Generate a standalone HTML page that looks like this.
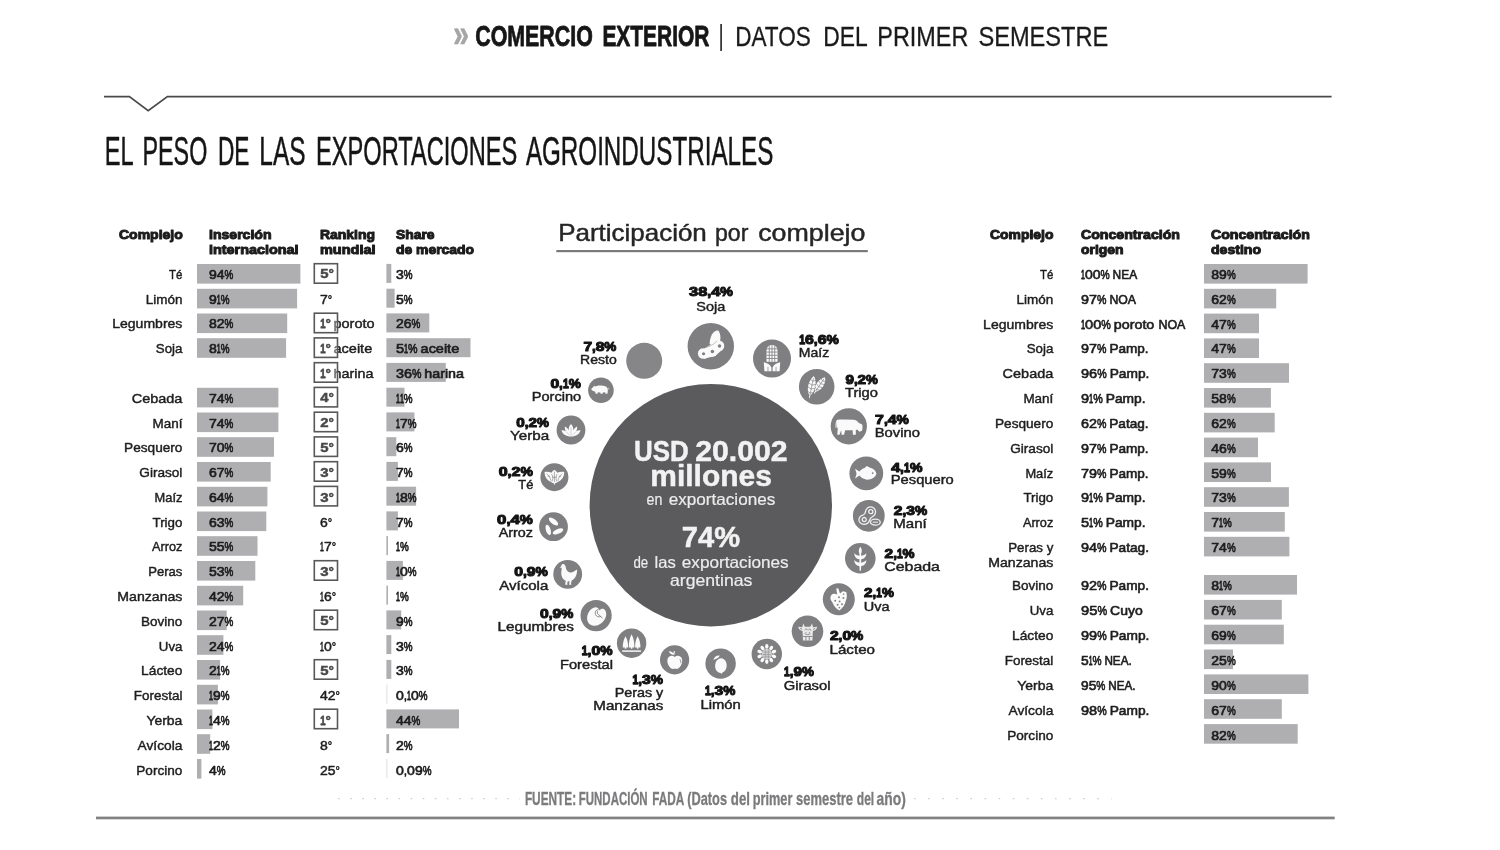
<!DOCTYPE html>
<html lang="es">
<head>
<meta charset="utf-8">
<title>El peso de las exportaciones agroindustriales</title>
<style>
html,body{margin:0;padding:0;background:#fff;}
body{width:1500px;height:850px;overflow:hidden;}
svg{display:block;font-family:"Liberation Sans", "DejaVu Sans", sans-serif;filter:blur(0.45px);}
text{white-space:pre;}
</style>
</head>
<body>
<svg width="1500" height="850" viewBox="0 0 1500 850">
<rect width="1500" height="850" fill="#ffffff"/>
<g class="header">
<text x="453.2" y="47.2" font-size="38" font-weight="bold" fill="#a6a6a6" stroke="#a6a6a6" stroke-width="0.7" stroke-linejoin="round" textLength="15.6" lengthAdjust="spacingAndGlyphs">»</text>
<text y="45.5" font-size="29.3" font-weight="bold" fill="#161616" stroke="#161616" stroke-width="0.8" stroke-linejoin="round"><tspan x="475.2" textLength="117.6" lengthAdjust="spacingAndGlyphs">COMERCIO</tspan> <tspan x="602.4" textLength="107.0" lengthAdjust="spacingAndGlyphs">EXTERIOR</tspan></text>
<rect x="720.3" y="24.0" width="1.6" height="27.0" fill="#222"/>
<text y="45.5" font-size="27.8" fill="#1a1a1a" stroke="#1a1a1a" stroke-width="0.3" stroke-linejoin="round"><tspan x="735.2" textLength="75.6" lengthAdjust="spacingAndGlyphs">DATOS</tspan> <tspan x="823.2" textLength="43.6" lengthAdjust="spacingAndGlyphs">DEL</tspan> <tspan x="877.3" textLength="91.0" lengthAdjust="spacingAndGlyphs">PRIMER</tspan> <tspan x="978.4" textLength="129.9" lengthAdjust="spacingAndGlyphs">SEMESTRE</tspan></text>
</g>
<path d="M104 96.6 H129.4 L148.2 110.8 L167.4 96.6 H1331.6" fill="none" stroke="#4a4a4a" stroke-width="1.7"/>
<text y="165.4" font-size="40.6" fill="#151515" stroke="#151515" stroke-width="0.5" stroke-linejoin="round"><tspan x="104.7" textLength="28.0" lengthAdjust="spacingAndGlyphs">EL</tspan> <tspan x="142.5" textLength="64.8" lengthAdjust="spacingAndGlyphs">PESO</tspan> <tspan x="218.0" textLength="31.5" lengthAdjust="spacingAndGlyphs">DE</tspan> <tspan x="259.3" textLength="46.2" lengthAdjust="spacingAndGlyphs">LAS</tspan> <tspan x="316.1" textLength="201.2" lengthAdjust="spacingAndGlyphs">EXPORTACIONES</tspan> <tspan x="525.9" textLength="247.4" lengthAdjust="spacingAndGlyphs">AGROINDUSTRIALES</tspan></text>
<g class="table-left">
<text x="119.0" y="239.4" font-size="13" font-weight="bold" fill="#1c1c1c" stroke="#1c1c1c" stroke-width="1.0" stroke-linejoin="round" textLength="63.8" lengthAdjust="spacingAndGlyphs">Complejo</text>
<text x="209.0" y="239.4" font-size="13" font-weight="bold" fill="#1c1c1c" stroke="#1c1c1c" stroke-width="1.0" stroke-linejoin="round" textLength="62.5" lengthAdjust="spacingAndGlyphs">Inserción</text>
<text x="209.0" y="253.8" font-size="13" font-weight="bold" fill="#1c1c1c" stroke="#1c1c1c" stroke-width="1.0" stroke-linejoin="round" textLength="89.6" lengthAdjust="spacingAndGlyphs">internacional</text>
<text x="320.0" y="239.4" font-size="13" font-weight="bold" fill="#1c1c1c" stroke="#1c1c1c" stroke-width="1.0" stroke-linejoin="round" textLength="55.0" lengthAdjust="spacingAndGlyphs">Ranking</text>
<text x="320.0" y="253.8" font-size="13" font-weight="bold" fill="#1c1c1c" stroke="#1c1c1c" stroke-width="1.0" stroke-linejoin="round" textLength="55.5" lengthAdjust="spacingAndGlyphs">mundial</text>
<text x="396.0" y="239.4" font-size="13" font-weight="bold" fill="#1c1c1c" stroke="#1c1c1c" stroke-width="1.0" stroke-linejoin="round" textLength="38.5" lengthAdjust="spacingAndGlyphs">Share</text>
<text x="396.0" y="253.8" font-size="13" font-weight="bold" fill="#1c1c1c" stroke="#1c1c1c" stroke-width="1.0" stroke-linejoin="round" textLength="78.0" lengthAdjust="spacingAndGlyphs">de mercado</text>
<g class="row">
<text x="169.0" y="278.8" font-size="13.6" fill="#1e1e1e" stroke="#1e1e1e" stroke-width="0.45" stroke-linejoin="round" textLength="13.4" lengthAdjust="spacingAndGlyphs">Té</text>
<rect x="197.0" y="264.0" width="103.4" height="19.6" fill="#afafb2"/>
<text y="278.8" font-size="13.6" fill="#1e1e1e" stroke="#1e1e1e" stroke-width="0.7" stroke-linejoin="round"><tspan x="209.0" textLength="15.6" lengthAdjust="spacingAndGlyphs">94</tspan><tspan x="224.6" textLength="8.8" lengthAdjust="spacingAndGlyphs">%</tspan></text>
<text y="278.4" font-size="13" font-weight="bold" fill="#484848" stroke="#484848" stroke-width="0.5" stroke-linejoin="round"><tspan x="320.2" textLength="8.3" lengthAdjust="spacingAndGlyphs">5</tspan><tspan x="328.5" textLength="5.4" lengthAdjust="spacingAndGlyphs">°</tspan></text>
<rect x="314.3" y="263.7" width="23.2" height="19.5" fill="none" stroke="#585858" stroke-width="1.6"/>
<rect x="386.4" y="263.9" width="4.9" height="19.0" fill="#afafb2"/>
<text y="278.8" font-size="13.6" fill="#1e1e1e" stroke="#1e1e1e" stroke-width="0.7" stroke-linejoin="round"><tspan x="396.0" textLength="7.8" lengthAdjust="spacingAndGlyphs">3</tspan><tspan x="403.8" textLength="8.8" lengthAdjust="spacingAndGlyphs">%</tspan></text>
</g>
<g class="row">
<text x="145.7" y="303.6" font-size="13.6" fill="#1e1e1e" stroke="#1e1e1e" stroke-width="0.45" stroke-linejoin="round" textLength="36.7" lengthAdjust="spacingAndGlyphs">Limón</text>
<rect x="197.0" y="288.8" width="100.1" height="19.6" fill="#afafb2"/>
<text y="303.6" font-size="13.6" fill="#1e1e1e" stroke="#1e1e1e" stroke-width="0.7" stroke-linejoin="round"><tspan x="209.0" textLength="7.8" lengthAdjust="spacingAndGlyphs">9</tspan><tspan x="216.8" textLength="3.9" lengthAdjust="spacingAndGlyphs" stroke-width="1.00">1</tspan><tspan x="220.7" textLength="8.8" lengthAdjust="spacingAndGlyphs">%</tspan></text>
<text y="303.6" font-size="13.6" fill="#1e1e1e" stroke="#1e1e1e" stroke-width="0.5" stroke-linejoin="round"><tspan x="320.0" textLength="7.8" lengthAdjust="spacingAndGlyphs">7</tspan><tspan x="327.8" textLength="4.4" lengthAdjust="spacingAndGlyphs">°</tspan></text>
<rect x="386.4" y="288.7" width="8.2" height="19.0" fill="#afafb2"/>
<text y="303.6" font-size="13.6" fill="#1e1e1e" stroke="#1e1e1e" stroke-width="0.7" stroke-linejoin="round"><tspan x="396.0" textLength="7.8" lengthAdjust="spacingAndGlyphs">5</tspan><tspan x="403.8" textLength="8.8" lengthAdjust="spacingAndGlyphs">%</tspan></text>
</g>
<g class="row">
<text x="112.2" y="328.4" font-size="13.6" fill="#1e1e1e" stroke="#1e1e1e" stroke-width="0.45" stroke-linejoin="round" textLength="70.2" lengthAdjust="spacingAndGlyphs">Legumbres</text>
<rect x="197.0" y="313.5" width="90.2" height="19.6" fill="#afafb2"/>
<text y="328.4" font-size="13.6" fill="#1e1e1e" stroke="#1e1e1e" stroke-width="0.7" stroke-linejoin="round"><tspan x="209.0" textLength="15.6" lengthAdjust="spacingAndGlyphs">82</tspan><tspan x="224.6" textLength="8.8" lengthAdjust="spacingAndGlyphs">%</tspan></text>
<text y="328.0" font-size="13" font-weight="bold" fill="#484848" stroke="#484848" stroke-width="0.5" stroke-linejoin="round"><tspan x="320.2" textLength="5.3" lengthAdjust="spacingAndGlyphs" stroke-width="0.80">1</tspan><tspan x="325.5" textLength="5.4" lengthAdjust="spacingAndGlyphs">°</tspan></text>
<text x="333.5" y="328.4" font-size="13.6" fill="#1e1e1e" stroke="#1e1e1e" stroke-width="0.45" stroke-linejoin="round" textLength="41.1" lengthAdjust="spacingAndGlyphs">poroto</text>
<rect x="332.6" y="313.2" width="4.9" height="19.5" fill="#fff" fill-opacity="0.35"/>
<rect x="314.3" y="313.2" width="23.2" height="19.5" fill="none" stroke="#585858" stroke-width="1.6"/>
<rect x="386.4" y="313.4" width="42.9" height="19.0" fill="#afafb2"/>
<text y="328.4" font-size="13.6" fill="#1e1e1e" stroke="#1e1e1e" stroke-width="0.7" stroke-linejoin="round"><tspan x="396.0" textLength="15.6" lengthAdjust="spacingAndGlyphs">26</tspan><tspan x="411.6" textLength="8.8" lengthAdjust="spacingAndGlyphs">%</tspan></text>
</g>
<g class="row">
<text x="155.8" y="353.2" font-size="13.6" fill="#1e1e1e" stroke="#1e1e1e" stroke-width="0.45" stroke-linejoin="round" textLength="26.6" lengthAdjust="spacingAndGlyphs">Soja</text>
<rect x="197.0" y="338.2" width="89.1" height="19.6" fill="#afafb2"/>
<text y="353.2" font-size="13.6" fill="#1e1e1e" stroke="#1e1e1e" stroke-width="0.7" stroke-linejoin="round"><tspan x="209.0" textLength="7.8" lengthAdjust="spacingAndGlyphs">8</tspan><tspan x="216.8" textLength="3.9" lengthAdjust="spacingAndGlyphs" stroke-width="1.00">1</tspan><tspan x="220.7" textLength="8.8" lengthAdjust="spacingAndGlyphs">%</tspan></text>
<text y="352.8" font-size="13" font-weight="bold" fill="#484848" stroke="#484848" stroke-width="0.5" stroke-linejoin="round"><tspan x="320.2" textLength="5.3" lengthAdjust="spacingAndGlyphs" stroke-width="0.80">1</tspan><tspan x="325.5" textLength="5.4" lengthAdjust="spacingAndGlyphs">°</tspan></text>
<text x="333.5" y="353.2" font-size="13.6" fill="#1e1e1e" stroke="#1e1e1e" stroke-width="0.45" stroke-linejoin="round" textLength="38.7" lengthAdjust="spacingAndGlyphs">aceite</text>
<rect x="332.6" y="337.9" width="4.9" height="19.5" fill="#fff" fill-opacity="0.35"/>
<rect x="314.3" y="337.9" width="23.2" height="19.5" fill="none" stroke="#585858" stroke-width="1.6"/>
<rect x="386.4" y="338.2" width="84.1" height="19.0" fill="#afafb2"/>
<text y="353.2" font-size="13.6" fill="#1e1e1e" stroke="#1e1e1e" stroke-width="0.7" stroke-linejoin="round"><tspan x="396.0" textLength="8.1" lengthAdjust="spacingAndGlyphs">5</tspan><tspan x="404.1" textLength="4.0" lengthAdjust="spacingAndGlyphs" stroke-width="1.00">1</tspan><tspan x="408.1" textLength="12.5" lengthAdjust="spacingAndGlyphs">% </tspan><tspan x="420.6" textLength="38.6" lengthAdjust="spacingAndGlyphs">aceite</tspan></text>
</g>
<g class="row">
<text y="377.5" font-size="13" font-weight="bold" fill="#484848" stroke="#484848" stroke-width="0.5" stroke-linejoin="round"><tspan x="320.2" textLength="5.3" lengthAdjust="spacingAndGlyphs" stroke-width="0.80">1</tspan><tspan x="325.5" textLength="5.4" lengthAdjust="spacingAndGlyphs">°</tspan></text>
<text x="333.5" y="377.9" font-size="13.6" fill="#1e1e1e" stroke="#1e1e1e" stroke-width="0.45" stroke-linejoin="round" textLength="39.9" lengthAdjust="spacingAndGlyphs">harina</text>
<rect x="332.6" y="362.7" width="4.9" height="19.5" fill="#fff" fill-opacity="0.35"/>
<rect x="314.3" y="362.7" width="23.2" height="19.5" fill="none" stroke="#585858" stroke-width="1.6"/>
<rect x="386.4" y="362.9" width="59.4" height="19.0" fill="#afafb2"/>
<text y="377.9" font-size="13.6" fill="#1e1e1e" stroke="#1e1e1e" stroke-width="0.7" stroke-linejoin="round"><tspan x="396.0" textLength="16.0" lengthAdjust="spacingAndGlyphs">36</tspan><tspan x="412.0" textLength="12.4" lengthAdjust="spacingAndGlyphs">% </tspan><tspan x="424.3" textLength="39.7" lengthAdjust="spacingAndGlyphs">harina</tspan></text>
</g>
<g class="row">
<text x="131.7" y="402.7" font-size="13.6" fill="#1e1e1e" stroke="#1e1e1e" stroke-width="0.45" stroke-linejoin="round" textLength="50.7" lengthAdjust="spacingAndGlyphs">Cebada</text>
<rect x="197.0" y="387.8" width="81.4" height="19.6" fill="#afafb2"/>
<text y="402.7" font-size="13.6" fill="#1e1e1e" stroke="#1e1e1e" stroke-width="0.7" stroke-linejoin="round"><tspan x="209.0" textLength="15.6" lengthAdjust="spacingAndGlyphs">74</tspan><tspan x="224.6" textLength="8.8" lengthAdjust="spacingAndGlyphs">%</tspan></text>
<text y="402.3" font-size="13" font-weight="bold" fill="#484848" stroke="#484848" stroke-width="0.5" stroke-linejoin="round"><tspan x="320.2" textLength="8.3" lengthAdjust="spacingAndGlyphs">4</tspan><tspan x="328.5" textLength="5.4" lengthAdjust="spacingAndGlyphs">°</tspan></text>
<rect x="314.3" y="387.4" width="23.2" height="19.5" fill="none" stroke="#585858" stroke-width="1.6"/>
<rect x="386.4" y="387.7" width="18.1" height="19.0" fill="#afafb2"/>
<text y="402.7" font-size="13.6" fill="#1e1e1e" stroke="#1e1e1e" stroke-width="0.7" stroke-linejoin="round"><tspan x="396.0" textLength="3.9" lengthAdjust="spacingAndGlyphs" stroke-width="1.00">1</tspan><tspan x="399.9" textLength="3.9" lengthAdjust="spacingAndGlyphs" stroke-width="1.00">1</tspan><tspan x="403.8" textLength="8.8" lengthAdjust="spacingAndGlyphs">%</tspan></text>
</g>
<g class="row">
<text x="152.5" y="427.5" font-size="13.6" fill="#1e1e1e" stroke="#1e1e1e" stroke-width="0.45" stroke-linejoin="round" textLength="29.9" lengthAdjust="spacingAndGlyphs">Maní</text>
<rect x="197.0" y="412.5" width="81.4" height="19.6" fill="#afafb2"/>
<text y="427.5" font-size="13.6" fill="#1e1e1e" stroke="#1e1e1e" stroke-width="0.7" stroke-linejoin="round"><tspan x="209.0" textLength="15.6" lengthAdjust="spacingAndGlyphs">74</tspan><tspan x="224.6" textLength="8.8" lengthAdjust="spacingAndGlyphs">%</tspan></text>
<text y="427.1" font-size="13" font-weight="bold" fill="#484848" stroke="#484848" stroke-width="0.5" stroke-linejoin="round"><tspan x="320.2" textLength="8.3" lengthAdjust="spacingAndGlyphs">2</tspan><tspan x="328.5" textLength="5.4" lengthAdjust="spacingAndGlyphs">°</tspan></text>
<rect x="314.3" y="412.2" width="23.2" height="19.5" fill="none" stroke="#585858" stroke-width="1.6"/>
<rect x="386.4" y="412.4" width="28.0" height="19.0" fill="#afafb2"/>
<text y="427.5" font-size="13.6" fill="#1e1e1e" stroke="#1e1e1e" stroke-width="0.7" stroke-linejoin="round"><tspan x="396.0" textLength="3.9" lengthAdjust="spacingAndGlyphs" stroke-width="1.00">1</tspan><tspan x="399.9" textLength="7.8" lengthAdjust="spacingAndGlyphs">7</tspan><tspan x="407.7" textLength="8.8" lengthAdjust="spacingAndGlyphs">%</tspan></text>
</g>
<g class="row">
<text x="124.1" y="452.3" font-size="13.6" fill="#1e1e1e" stroke="#1e1e1e" stroke-width="0.45" stroke-linejoin="round" textLength="58.3" lengthAdjust="spacingAndGlyphs">Pesquero</text>
<rect x="197.0" y="437.2" width="77.0" height="19.6" fill="#afafb2"/>
<text y="452.3" font-size="13.6" fill="#1e1e1e" stroke="#1e1e1e" stroke-width="0.7" stroke-linejoin="round"><tspan x="209.0" textLength="15.6" lengthAdjust="spacingAndGlyphs">70</tspan><tspan x="224.6" textLength="8.8" lengthAdjust="spacingAndGlyphs">%</tspan></text>
<text y="451.9" font-size="13" font-weight="bold" fill="#484848" stroke="#484848" stroke-width="0.5" stroke-linejoin="round"><tspan x="320.2" textLength="8.3" lengthAdjust="spacingAndGlyphs">5</tspan><tspan x="328.5" textLength="5.4" lengthAdjust="spacingAndGlyphs">°</tspan></text>
<rect x="314.3" y="436.9" width="23.2" height="19.5" fill="none" stroke="#585858" stroke-width="1.6"/>
<rect x="386.4" y="437.2" width="9.9" height="19.0" fill="#afafb2"/>
<text y="452.3" font-size="13.6" fill="#1e1e1e" stroke="#1e1e1e" stroke-width="0.7" stroke-linejoin="round"><tspan x="396.0" textLength="7.8" lengthAdjust="spacingAndGlyphs">6</tspan><tspan x="403.8" textLength="8.8" lengthAdjust="spacingAndGlyphs">%</tspan></text>
</g>
<g class="row">
<text x="139.3" y="477.1" font-size="13.6" fill="#1e1e1e" stroke="#1e1e1e" stroke-width="0.45" stroke-linejoin="round" textLength="43.1" lengthAdjust="spacingAndGlyphs">Girasol</text>
<rect x="197.0" y="462.0" width="73.7" height="19.6" fill="#afafb2"/>
<text y="477.1" font-size="13.6" fill="#1e1e1e" stroke="#1e1e1e" stroke-width="0.7" stroke-linejoin="round"><tspan x="209.0" textLength="15.6" lengthAdjust="spacingAndGlyphs">67</tspan><tspan x="224.6" textLength="8.8" lengthAdjust="spacingAndGlyphs">%</tspan></text>
<text y="476.7" font-size="13" font-weight="bold" fill="#484848" stroke="#484848" stroke-width="0.5" stroke-linejoin="round"><tspan x="320.2" textLength="8.3" lengthAdjust="spacingAndGlyphs">3</tspan><tspan x="328.5" textLength="5.4" lengthAdjust="spacingAndGlyphs">°</tspan></text>
<rect x="314.3" y="461.7" width="23.2" height="19.5" fill="none" stroke="#585858" stroke-width="1.6"/>
<rect x="386.4" y="461.9" width="11.5" height="19.0" fill="#afafb2"/>
<text y="477.1" font-size="13.6" fill="#1e1e1e" stroke="#1e1e1e" stroke-width="0.7" stroke-linejoin="round"><tspan x="396.0" textLength="7.8" lengthAdjust="spacingAndGlyphs">7</tspan><tspan x="403.8" textLength="8.8" lengthAdjust="spacingAndGlyphs">%</tspan></text>
</g>
<g class="row">
<text x="154.5" y="501.9" font-size="13.6" fill="#1e1e1e" stroke="#1e1e1e" stroke-width="0.45" stroke-linejoin="round" textLength="27.9" lengthAdjust="spacingAndGlyphs">Maíz</text>
<rect x="197.0" y="486.8" width="70.4" height="19.6" fill="#afafb2"/>
<text y="501.9" font-size="13.6" fill="#1e1e1e" stroke="#1e1e1e" stroke-width="0.7" stroke-linejoin="round"><tspan x="209.0" textLength="15.6" lengthAdjust="spacingAndGlyphs">64</tspan><tspan x="224.6" textLength="8.8" lengthAdjust="spacingAndGlyphs">%</tspan></text>
<text y="501.5" font-size="13" font-weight="bold" fill="#484848" stroke="#484848" stroke-width="0.5" stroke-linejoin="round"><tspan x="320.2" textLength="8.3" lengthAdjust="spacingAndGlyphs">3</tspan><tspan x="328.5" textLength="5.4" lengthAdjust="spacingAndGlyphs">°</tspan></text>
<rect x="314.3" y="486.4" width="23.2" height="19.5" fill="none" stroke="#585858" stroke-width="1.6"/>
<rect x="386.4" y="486.7" width="29.7" height="19.0" fill="#afafb2"/>
<text y="501.9" font-size="13.6" fill="#1e1e1e" stroke="#1e1e1e" stroke-width="0.7" stroke-linejoin="round"><tspan x="396.0" textLength="3.9" lengthAdjust="spacingAndGlyphs" stroke-width="1.00">1</tspan><tspan x="399.9" textLength="7.8" lengthAdjust="spacingAndGlyphs">8</tspan><tspan x="407.7" textLength="8.8" lengthAdjust="spacingAndGlyphs">%</tspan></text>
</g>
<g class="row">
<text x="152.5" y="526.6" font-size="13.6" fill="#1e1e1e" stroke="#1e1e1e" stroke-width="0.45" stroke-linejoin="round" textLength="29.9" lengthAdjust="spacingAndGlyphs">Trigo</text>
<rect x="197.0" y="511.5" width="69.3" height="19.6" fill="#afafb2"/>
<text y="526.6" font-size="13.6" fill="#1e1e1e" stroke="#1e1e1e" stroke-width="0.7" stroke-linejoin="round"><tspan x="209.0" textLength="15.6" lengthAdjust="spacingAndGlyphs">63</tspan><tspan x="224.6" textLength="8.8" lengthAdjust="spacingAndGlyphs">%</tspan></text>
<text y="526.6" font-size="13.6" fill="#1e1e1e" stroke="#1e1e1e" stroke-width="0.5" stroke-linejoin="round"><tspan x="320.0" textLength="7.8" lengthAdjust="spacingAndGlyphs">6</tspan><tspan x="327.8" textLength="4.4" lengthAdjust="spacingAndGlyphs">°</tspan></text>
<rect x="386.4" y="511.4" width="11.5" height="19.0" fill="#afafb2"/>
<text y="526.6" font-size="13.6" fill="#1e1e1e" stroke="#1e1e1e" stroke-width="0.7" stroke-linejoin="round"><tspan x="396.0" textLength="7.8" lengthAdjust="spacingAndGlyphs">7</tspan><tspan x="403.8" textLength="8.8" lengthAdjust="spacingAndGlyphs">%</tspan></text>
</g>
<g class="row">
<text x="152.0" y="551.4" font-size="13.6" fill="#1e1e1e" stroke="#1e1e1e" stroke-width="0.45" stroke-linejoin="round" textLength="30.4" lengthAdjust="spacingAndGlyphs">Arroz</text>
<rect x="197.0" y="536.2" width="60.5" height="19.6" fill="#afafb2"/>
<text y="551.4" font-size="13.6" fill="#1e1e1e" stroke="#1e1e1e" stroke-width="0.7" stroke-linejoin="round"><tspan x="209.0" textLength="15.6" lengthAdjust="spacingAndGlyphs">55</tspan><tspan x="224.6" textLength="8.8" lengthAdjust="spacingAndGlyphs">%</tspan></text>
<text y="551.4" font-size="13.6" fill="#1e1e1e" stroke="#1e1e1e" stroke-width="0.5" stroke-linejoin="round"><tspan x="320.0" textLength="3.9" lengthAdjust="spacingAndGlyphs" stroke-width="0.80">1</tspan><tspan x="323.9" textLength="7.8" lengthAdjust="spacingAndGlyphs">7</tspan><tspan x="331.7" textLength="4.4" lengthAdjust="spacingAndGlyphs">°</tspan></text>
<rect x="386.4" y="536.1" width="1.6" height="19.0" fill="#afafb2"/>
<text y="551.4" font-size="13.6" fill="#1e1e1e" stroke="#1e1e1e" stroke-width="0.7" stroke-linejoin="round"><tspan x="396.0" textLength="3.9" lengthAdjust="spacingAndGlyphs" stroke-width="1.00">1</tspan><tspan x="399.9" textLength="8.8" lengthAdjust="spacingAndGlyphs">%</tspan></text>
</g>
<g class="row">
<text x="148.2" y="576.2" font-size="13.6" fill="#1e1e1e" stroke="#1e1e1e" stroke-width="0.45" stroke-linejoin="round" textLength="34.2" lengthAdjust="spacingAndGlyphs">Peras</text>
<rect x="197.0" y="561.0" width="58.3" height="19.6" fill="#afafb2"/>
<text y="576.2" font-size="13.6" fill="#1e1e1e" stroke="#1e1e1e" stroke-width="0.7" stroke-linejoin="round"><tspan x="209.0" textLength="15.6" lengthAdjust="spacingAndGlyphs">53</tspan><tspan x="224.6" textLength="8.8" lengthAdjust="spacingAndGlyphs">%</tspan></text>
<text y="575.8" font-size="13" font-weight="bold" fill="#484848" stroke="#484848" stroke-width="0.5" stroke-linejoin="round"><tspan x="320.2" textLength="8.3" lengthAdjust="spacingAndGlyphs">3</tspan><tspan x="328.5" textLength="5.4" lengthAdjust="spacingAndGlyphs">°</tspan></text>
<rect x="314.3" y="560.7" width="23.2" height="19.5" fill="none" stroke="#585858" stroke-width="1.6"/>
<rect x="386.4" y="560.9" width="16.5" height="19.0" fill="#afafb2"/>
<text y="576.2" font-size="13.6" fill="#1e1e1e" stroke="#1e1e1e" stroke-width="0.7" stroke-linejoin="round"><tspan x="396.0" textLength="3.9" lengthAdjust="spacingAndGlyphs" stroke-width="1.00">1</tspan><tspan x="399.9" textLength="7.8" lengthAdjust="spacingAndGlyphs">0</tspan><tspan x="407.7" textLength="8.8" lengthAdjust="spacingAndGlyphs">%</tspan></text>
</g>
<g class="row">
<text x="117.3" y="601.0" font-size="13.6" fill="#1e1e1e" stroke="#1e1e1e" stroke-width="0.45" stroke-linejoin="round" textLength="65.1" lengthAdjust="spacingAndGlyphs">Manzanas</text>
<rect x="197.0" y="585.8" width="46.2" height="19.6" fill="#afafb2"/>
<text y="601.0" font-size="13.6" fill="#1e1e1e" stroke="#1e1e1e" stroke-width="0.7" stroke-linejoin="round"><tspan x="209.0" textLength="15.6" lengthAdjust="spacingAndGlyphs">42</tspan><tspan x="224.6" textLength="8.8" lengthAdjust="spacingAndGlyphs">%</tspan></text>
<text y="601.0" font-size="13.6" fill="#1e1e1e" stroke="#1e1e1e" stroke-width="0.5" stroke-linejoin="round"><tspan x="320.0" textLength="3.9" lengthAdjust="spacingAndGlyphs" stroke-width="0.80">1</tspan><tspan x="323.9" textLength="7.8" lengthAdjust="spacingAndGlyphs">6</tspan><tspan x="331.7" textLength="4.4" lengthAdjust="spacingAndGlyphs">°</tspan></text>
<rect x="386.4" y="585.6" width="1.6" height="19.0" fill="#afafb2"/>
<text y="601.0" font-size="13.6" fill="#1e1e1e" stroke="#1e1e1e" stroke-width="0.7" stroke-linejoin="round"><tspan x="396.0" textLength="3.9" lengthAdjust="spacingAndGlyphs" stroke-width="1.00">1</tspan><tspan x="399.9" textLength="8.8" lengthAdjust="spacingAndGlyphs">%</tspan></text>
</g>
<g class="row">
<text x="141.1" y="625.8" font-size="13.6" fill="#1e1e1e" stroke="#1e1e1e" stroke-width="0.45" stroke-linejoin="round" textLength="41.3" lengthAdjust="spacingAndGlyphs">Bovino</text>
<rect x="197.0" y="610.5" width="29.7" height="19.6" fill="#afafb2"/>
<text y="625.8" font-size="13.6" fill="#1e1e1e" stroke="#1e1e1e" stroke-width="0.7" stroke-linejoin="round"><tspan x="209.0" textLength="15.6" lengthAdjust="spacingAndGlyphs">27</tspan><tspan x="224.6" textLength="8.8" lengthAdjust="spacingAndGlyphs">%</tspan></text>
<text y="625.4" font-size="13" font-weight="bold" fill="#484848" stroke="#484848" stroke-width="0.5" stroke-linejoin="round"><tspan x="320.2" textLength="8.3" lengthAdjust="spacingAndGlyphs">5</tspan><tspan x="328.5" textLength="5.4" lengthAdjust="spacingAndGlyphs">°</tspan></text>
<rect x="314.3" y="610.2" width="23.2" height="19.5" fill="none" stroke="#585858" stroke-width="1.6"/>
<rect x="386.4" y="610.4" width="14.8" height="19.0" fill="#afafb2"/>
<text y="625.8" font-size="13.6" fill="#1e1e1e" stroke="#1e1e1e" stroke-width="0.7" stroke-linejoin="round"><tspan x="396.0" textLength="7.8" lengthAdjust="spacingAndGlyphs">9</tspan><tspan x="403.8" textLength="8.8" lengthAdjust="spacingAndGlyphs">%</tspan></text>
</g>
<g class="row">
<text x="158.8" y="650.6" font-size="13.6" fill="#1e1e1e" stroke="#1e1e1e" stroke-width="0.45" stroke-linejoin="round" textLength="23.6" lengthAdjust="spacingAndGlyphs">Uva</text>
<rect x="197.0" y="635.2" width="26.4" height="19.6" fill="#afafb2"/>
<text y="650.6" font-size="13.6" fill="#1e1e1e" stroke="#1e1e1e" stroke-width="0.7" stroke-linejoin="round"><tspan x="209.0" textLength="15.6" lengthAdjust="spacingAndGlyphs">24</tspan><tspan x="224.6" textLength="8.8" lengthAdjust="spacingAndGlyphs">%</tspan></text>
<text y="650.6" font-size="13.6" fill="#1e1e1e" stroke="#1e1e1e" stroke-width="0.5" stroke-linejoin="round"><tspan x="320.0" textLength="3.9" lengthAdjust="spacingAndGlyphs" stroke-width="0.80">1</tspan><tspan x="323.9" textLength="7.8" lengthAdjust="spacingAndGlyphs">0</tspan><tspan x="331.7" textLength="4.4" lengthAdjust="spacingAndGlyphs">°</tspan></text>
<rect x="386.4" y="635.1" width="4.9" height="19.0" fill="#afafb2"/>
<text y="650.6" font-size="13.6" fill="#1e1e1e" stroke="#1e1e1e" stroke-width="0.7" stroke-linejoin="round"><tspan x="396.0" textLength="7.8" lengthAdjust="spacingAndGlyphs">3</tspan><tspan x="403.8" textLength="8.8" lengthAdjust="spacingAndGlyphs">%</tspan></text>
</g>
<g class="row">
<text x="141.1" y="675.4" font-size="13.6" fill="#1e1e1e" stroke="#1e1e1e" stroke-width="0.45" stroke-linejoin="round" textLength="41.3" lengthAdjust="spacingAndGlyphs">Lácteo</text>
<rect x="197.0" y="660.0" width="23.1" height="19.6" fill="#afafb2"/>
<text y="675.4" font-size="13.6" fill="#1e1e1e" stroke="#1e1e1e" stroke-width="0.7" stroke-linejoin="round"><tspan x="209.0" textLength="7.8" lengthAdjust="spacingAndGlyphs">2</tspan><tspan x="216.8" textLength="3.9" lengthAdjust="spacingAndGlyphs" stroke-width="1.00">1</tspan><tspan x="220.7" textLength="8.8" lengthAdjust="spacingAndGlyphs">%</tspan></text>
<text y="675.0" font-size="13" font-weight="bold" fill="#484848" stroke="#484848" stroke-width="0.5" stroke-linejoin="round"><tspan x="320.2" textLength="8.3" lengthAdjust="spacingAndGlyphs">5</tspan><tspan x="328.5" textLength="5.4" lengthAdjust="spacingAndGlyphs">°</tspan></text>
<rect x="314.3" y="659.7" width="23.2" height="19.5" fill="none" stroke="#585858" stroke-width="1.6"/>
<rect x="386.4" y="659.9" width="4.9" height="19.0" fill="#afafb2"/>
<text y="675.4" font-size="13.6" fill="#1e1e1e" stroke="#1e1e1e" stroke-width="0.7" stroke-linejoin="round"><tspan x="396.0" textLength="7.8" lengthAdjust="spacingAndGlyphs">3</tspan><tspan x="403.8" textLength="8.8" lengthAdjust="spacingAndGlyphs">%</tspan></text>
</g>
<g class="row">
<text x="133.8" y="700.1" font-size="13.6" fill="#1e1e1e" stroke="#1e1e1e" stroke-width="0.45" stroke-linejoin="round" textLength="48.6" lengthAdjust="spacingAndGlyphs">Forestal</text>
<rect x="197.0" y="684.8" width="20.9" height="19.6" fill="#afafb2"/>
<text y="700.1" font-size="13.6" fill="#1e1e1e" stroke="#1e1e1e" stroke-width="0.7" stroke-linejoin="round"><tspan x="209.0" textLength="3.9" lengthAdjust="spacingAndGlyphs" stroke-width="1.00">1</tspan><tspan x="212.9" textLength="7.8" lengthAdjust="spacingAndGlyphs">9</tspan><tspan x="220.7" textLength="8.8" lengthAdjust="spacingAndGlyphs">%</tspan></text>
<text y="700.1" font-size="13.6" fill="#1e1e1e" stroke="#1e1e1e" stroke-width="0.5" stroke-linejoin="round"><tspan x="320.0" textLength="15.6" lengthAdjust="spacingAndGlyphs">42</tspan><tspan x="335.6" textLength="4.4" lengthAdjust="spacingAndGlyphs">°</tspan></text>
<rect x="386.4" y="684.6" width="1.0" height="19.0" fill="#dedede"/>
<text y="700.1" font-size="13.6" fill="#1e1e1e" stroke="#1e1e1e" stroke-width="0.7" stroke-linejoin="round"><tspan x="396.0" textLength="7.8" lengthAdjust="spacingAndGlyphs">0</tspan><tspan x="403.8" textLength="3.3" lengthAdjust="spacingAndGlyphs">,</tspan><tspan x="407.1" textLength="3.9" lengthAdjust="spacingAndGlyphs" stroke-width="1.00">1</tspan><tspan x="411.0" textLength="7.8" lengthAdjust="spacingAndGlyphs">0</tspan><tspan x="418.8" textLength="8.8" lengthAdjust="spacingAndGlyphs">%</tspan></text>
</g>
<g class="row">
<text x="146.4" y="724.9" font-size="13.6" fill="#1e1e1e" stroke="#1e1e1e" stroke-width="0.45" stroke-linejoin="round" textLength="36.0" lengthAdjust="spacingAndGlyphs">Yerba</text>
<rect x="197.0" y="709.5" width="15.4" height="19.6" fill="#afafb2"/>
<text y="724.9" font-size="13.6" fill="#1e1e1e" stroke="#1e1e1e" stroke-width="0.7" stroke-linejoin="round"><tspan x="209.0" textLength="3.9" lengthAdjust="spacingAndGlyphs" stroke-width="1.00">1</tspan><tspan x="212.9" textLength="7.8" lengthAdjust="spacingAndGlyphs">4</tspan><tspan x="220.7" textLength="8.8" lengthAdjust="spacingAndGlyphs">%</tspan></text>
<text y="724.5" font-size="13" font-weight="bold" fill="#484848" stroke="#484848" stroke-width="0.5" stroke-linejoin="round"><tspan x="320.2" textLength="5.3" lengthAdjust="spacingAndGlyphs" stroke-width="0.80">1</tspan><tspan x="325.5" textLength="5.4" lengthAdjust="spacingAndGlyphs">°</tspan></text>
<rect x="314.3" y="709.2" width="23.2" height="19.5" fill="none" stroke="#585858" stroke-width="1.6"/>
<rect x="386.4" y="709.4" width="72.6" height="19.0" fill="#afafb2"/>
<text y="724.9" font-size="13.6" fill="#1e1e1e" stroke="#1e1e1e" stroke-width="0.7" stroke-linejoin="round"><tspan x="396.0" textLength="15.6" lengthAdjust="spacingAndGlyphs">44</tspan><tspan x="411.6" textLength="8.8" lengthAdjust="spacingAndGlyphs">%</tspan></text>
</g>
<g class="row">
<text x="137.6" y="749.7" font-size="13.6" fill="#1e1e1e" stroke="#1e1e1e" stroke-width="0.45" stroke-linejoin="round" textLength="44.8" lengthAdjust="spacingAndGlyphs">Avícola</text>
<rect x="197.0" y="734.2" width="13.2" height="19.6" fill="#afafb2"/>
<text y="749.7" font-size="13.6" fill="#1e1e1e" stroke="#1e1e1e" stroke-width="0.7" stroke-linejoin="round"><tspan x="209.0" textLength="3.9" lengthAdjust="spacingAndGlyphs" stroke-width="1.00">1</tspan><tspan x="212.9" textLength="7.8" lengthAdjust="spacingAndGlyphs">2</tspan><tspan x="220.7" textLength="8.8" lengthAdjust="spacingAndGlyphs">%</tspan></text>
<text y="749.7" font-size="13.6" fill="#1e1e1e" stroke="#1e1e1e" stroke-width="0.5" stroke-linejoin="round"><tspan x="320.0" textLength="7.8" lengthAdjust="spacingAndGlyphs">8</tspan><tspan x="327.8" textLength="4.4" lengthAdjust="spacingAndGlyphs">°</tspan></text>
<rect x="386.4" y="734.1" width="2.7" height="19.0" fill="#afafb2"/>
<text y="749.7" font-size="13.6" fill="#1e1e1e" stroke="#1e1e1e" stroke-width="0.7" stroke-linejoin="round"><tspan x="396.0" textLength="7.8" lengthAdjust="spacingAndGlyphs">2</tspan><tspan x="403.8" textLength="8.8" lengthAdjust="spacingAndGlyphs">%</tspan></text>
</g>
<g class="row">
<text x="136.3" y="774.5" font-size="13.6" fill="#1e1e1e" stroke="#1e1e1e" stroke-width="0.45" stroke-linejoin="round" textLength="46.1" lengthAdjust="spacingAndGlyphs">Porcino</text>
<rect x="197.0" y="759.0" width="4.4" height="19.6" fill="#afafb2"/>
<text y="774.5" font-size="13.6" fill="#1e1e1e" stroke="#1e1e1e" stroke-width="0.7" stroke-linejoin="round"><tspan x="209.0" textLength="7.8" lengthAdjust="spacingAndGlyphs">4</tspan><tspan x="216.8" textLength="8.8" lengthAdjust="spacingAndGlyphs">%</tspan></text>
<text y="774.5" font-size="13.6" fill="#1e1e1e" stroke="#1e1e1e" stroke-width="0.5" stroke-linejoin="round"><tspan x="320.0" textLength="15.6" lengthAdjust="spacingAndGlyphs">25</tspan><tspan x="335.6" textLength="4.4" lengthAdjust="spacingAndGlyphs">°</tspan></text>
<rect x="386.4" y="758.9" width="1.0" height="19.0" fill="#dedede"/>
<text y="774.5" font-size="13.6" fill="#1e1e1e" stroke="#1e1e1e" stroke-width="0.7" stroke-linejoin="round"><tspan x="396.0" textLength="7.8" lengthAdjust="spacingAndGlyphs">0</tspan><tspan x="403.8" textLength="3.3" lengthAdjust="spacingAndGlyphs">,</tspan><tspan x="407.1" textLength="15.6" lengthAdjust="spacingAndGlyphs">09</tspan><tspan x="422.7" textLength="8.8" lengthAdjust="spacingAndGlyphs">%</tspan></text>
</g>
</g>
<g class="table-right">
<text x="990.0" y="239.4" font-size="13" font-weight="bold" fill="#1c1c1c" stroke="#1c1c1c" stroke-width="1.0" stroke-linejoin="round" textLength="63.4" lengthAdjust="spacingAndGlyphs">Complejo</text>
<text x="1081.0" y="239.4" font-size="13" font-weight="bold" fill="#1c1c1c" stroke="#1c1c1c" stroke-width="1.0" stroke-linejoin="round" textLength="99.0" lengthAdjust="spacingAndGlyphs">Concentración</text>
<text x="1081.0" y="253.8" font-size="13" font-weight="bold" fill="#1c1c1c" stroke="#1c1c1c" stroke-width="1.0" stroke-linejoin="round" textLength="42.5" lengthAdjust="spacingAndGlyphs">origen</text>
<text x="1211.0" y="239.4" font-size="13" font-weight="bold" fill="#1c1c1c" stroke="#1c1c1c" stroke-width="1.0" stroke-linejoin="round" textLength="98.8" lengthAdjust="spacingAndGlyphs">Concentración</text>
<text x="1211.0" y="253.8" font-size="13" font-weight="bold" fill="#1c1c1c" stroke="#1c1c1c" stroke-width="1.0" stroke-linejoin="round" textLength="50.0" lengthAdjust="spacingAndGlyphs">destino</text>
<g class="row">
<text x="1039.9" y="278.8" font-size="13.6" fill="#1e1e1e" stroke="#1e1e1e" stroke-width="0.45" stroke-linejoin="round" textLength="13.4" lengthAdjust="spacingAndGlyphs">Té</text>
<text y="278.8" font-size="13.6" fill="#1e1e1e" stroke="#1e1e1e" stroke-width="0.65" stroke-linejoin="round"><tspan x="1081.0" textLength="3.9" lengthAdjust="spacingAndGlyphs" stroke-width="0.95">1</tspan><tspan x="1084.9" textLength="15.6" lengthAdjust="spacingAndGlyphs">00</tspan><tspan x="1100.5" textLength="12.1" lengthAdjust="spacingAndGlyphs">% </tspan><tspan x="1112.6" textLength="24.6" lengthAdjust="spacingAndGlyphs">NEA</tspan></text>
<rect x="1204.0" y="264.0" width="103.6" height="19.6" fill="#afafb2"/>
<text y="278.8" font-size="13.6" fill="#1e1e1e" stroke="#1e1e1e" stroke-width="0.7" stroke-linejoin="round"><tspan x="1211.3" textLength="15.6" lengthAdjust="spacingAndGlyphs">89</tspan><tspan x="1226.9" textLength="8.8" lengthAdjust="spacingAndGlyphs">%</tspan></text>
</g>
<g class="row">
<text x="1016.6" y="303.6" font-size="13.6" fill="#1e1e1e" stroke="#1e1e1e" stroke-width="0.45" stroke-linejoin="round" textLength="36.7" lengthAdjust="spacingAndGlyphs">Limón</text>
<text y="303.6" font-size="13.6" fill="#1e1e1e" stroke="#1e1e1e" stroke-width="0.65" stroke-linejoin="round"><tspan x="1081.0" textLength="16.0" lengthAdjust="spacingAndGlyphs">97</tspan><tspan x="1097.0" textLength="12.4" lengthAdjust="spacingAndGlyphs">% </tspan><tspan x="1109.4" textLength="26.6" lengthAdjust="spacingAndGlyphs">NOA</tspan></text>
<rect x="1204.0" y="288.8" width="72.2" height="19.6" fill="#afafb2"/>
<text y="303.6" font-size="13.6" fill="#1e1e1e" stroke="#1e1e1e" stroke-width="0.7" stroke-linejoin="round"><tspan x="1211.3" textLength="15.6" lengthAdjust="spacingAndGlyphs">62</tspan><tspan x="1226.9" textLength="8.8" lengthAdjust="spacingAndGlyphs">%</tspan></text>
</g>
<g class="row">
<text x="983.1" y="328.5" font-size="13.6" fill="#1e1e1e" stroke="#1e1e1e" stroke-width="0.45" stroke-linejoin="round" textLength="70.2" lengthAdjust="spacingAndGlyphs">Legumbres</text>
<text y="328.5" font-size="13.6" fill="#1e1e1e" stroke="#1e1e1e" stroke-width="0.65" stroke-linejoin="round"><tspan x="1081.0" textLength="4.1" lengthAdjust="spacingAndGlyphs" stroke-width="0.95">1</tspan><tspan x="1085.1" textLength="16.2" lengthAdjust="spacingAndGlyphs">00</tspan><tspan x="1101.3" textLength="12.6" lengthAdjust="spacingAndGlyphs">% </tspan><tspan x="1113.8" textLength="44.5" lengthAdjust="spacingAndGlyphs">poroto </tspan><tspan x="1158.4" textLength="27.0" lengthAdjust="spacingAndGlyphs">NOA</tspan></text>
<rect x="1204.0" y="313.6" width="55.0" height="19.6" fill="#afafb2"/>
<text y="328.5" font-size="13.6" fill="#1e1e1e" stroke="#1e1e1e" stroke-width="0.7" stroke-linejoin="round"><tspan x="1211.3" textLength="15.6" lengthAdjust="spacingAndGlyphs">47</tspan><tspan x="1226.9" textLength="8.8" lengthAdjust="spacingAndGlyphs">%</tspan></text>
</g>
<g class="row">
<text x="1026.7" y="353.3" font-size="13.6" fill="#1e1e1e" stroke="#1e1e1e" stroke-width="0.45" stroke-linejoin="round" textLength="26.6" lengthAdjust="spacingAndGlyphs">Soja</text>
<text y="353.3" font-size="13.6" fill="#1e1e1e" stroke="#1e1e1e" stroke-width="0.65" stroke-linejoin="round"><tspan x="1081.0" textLength="16.0" lengthAdjust="spacingAndGlyphs">97</tspan><tspan x="1097.0" textLength="12.4" lengthAdjust="spacingAndGlyphs">% </tspan><tspan x="1109.4" textLength="39.2" lengthAdjust="spacingAndGlyphs">Pamp.</tspan></text>
<rect x="1204.0" y="338.4" width="55.0" height="19.6" fill="#afafb2"/>
<text y="353.3" font-size="13.6" fill="#1e1e1e" stroke="#1e1e1e" stroke-width="0.7" stroke-linejoin="round"><tspan x="1211.3" textLength="15.6" lengthAdjust="spacingAndGlyphs">47</tspan><tspan x="1226.9" textLength="8.8" lengthAdjust="spacingAndGlyphs">%</tspan></text>
</g>
<g class="row">
<text x="1002.6" y="378.1" font-size="13.6" fill="#1e1e1e" stroke="#1e1e1e" stroke-width="0.45" stroke-linejoin="round" textLength="50.7" lengthAdjust="spacingAndGlyphs">Cebada</text>
<text y="378.1" font-size="13.6" fill="#1e1e1e" stroke="#1e1e1e" stroke-width="0.65" stroke-linejoin="round"><tspan x="1081.0" textLength="16.2" lengthAdjust="spacingAndGlyphs">96</tspan><tspan x="1097.2" textLength="12.5" lengthAdjust="spacingAndGlyphs">% </tspan><tspan x="1109.7" textLength="39.7" lengthAdjust="spacingAndGlyphs">Pamp.</tspan></text>
<rect x="1204.0" y="363.2" width="85.0" height="19.6" fill="#afafb2"/>
<text y="378.1" font-size="13.6" fill="#1e1e1e" stroke="#1e1e1e" stroke-width="0.7" stroke-linejoin="round"><tspan x="1211.3" textLength="15.6" lengthAdjust="spacingAndGlyphs">73</tspan><tspan x="1226.9" textLength="8.8" lengthAdjust="spacingAndGlyphs">%</tspan></text>
</g>
<g class="row">
<text x="1023.4" y="403.0" font-size="13.6" fill="#1e1e1e" stroke="#1e1e1e" stroke-width="0.45" stroke-linejoin="round" textLength="29.9" lengthAdjust="spacingAndGlyphs">Maní</text>
<text y="403.0" font-size="13.6" fill="#1e1e1e" stroke="#1e1e1e" stroke-width="0.65" stroke-linejoin="round"><tspan x="1081.0" textLength="8.1" lengthAdjust="spacingAndGlyphs">9</tspan><tspan x="1089.1" textLength="4.1" lengthAdjust="spacingAndGlyphs" stroke-width="0.95">1</tspan><tspan x="1093.2" textLength="12.6" lengthAdjust="spacingAndGlyphs">% </tspan><tspan x="1105.7" textLength="39.9" lengthAdjust="spacingAndGlyphs">Pamp.</tspan></text>
<rect x="1204.0" y="388.0" width="66.9" height="19.6" fill="#afafb2"/>
<text y="403.0" font-size="13.6" fill="#1e1e1e" stroke="#1e1e1e" stroke-width="0.7" stroke-linejoin="round"><tspan x="1211.3" textLength="15.6" lengthAdjust="spacingAndGlyphs">58</tspan><tspan x="1226.9" textLength="8.8" lengthAdjust="spacingAndGlyphs">%</tspan></text>
</g>
<g class="row">
<text x="995.0" y="427.8" font-size="13.6" fill="#1e1e1e" stroke="#1e1e1e" stroke-width="0.45" stroke-linejoin="round" textLength="58.3" lengthAdjust="spacingAndGlyphs">Pesquero</text>
<text y="427.8" font-size="13.6" fill="#1e1e1e" stroke="#1e1e1e" stroke-width="0.65" stroke-linejoin="round"><tspan x="1081.0" textLength="16.0" lengthAdjust="spacingAndGlyphs">62</tspan><tspan x="1097.0" textLength="12.4" lengthAdjust="spacingAndGlyphs">% </tspan><tspan x="1109.3" textLength="39.3" lengthAdjust="spacingAndGlyphs">Patag.</tspan></text>
<rect x="1204.0" y="412.8" width="70.7" height="19.6" fill="#afafb2"/>
<text y="427.8" font-size="13.6" fill="#1e1e1e" stroke="#1e1e1e" stroke-width="0.7" stroke-linejoin="round"><tspan x="1211.3" textLength="15.6" lengthAdjust="spacingAndGlyphs">62</tspan><tspan x="1226.9" textLength="8.8" lengthAdjust="spacingAndGlyphs">%</tspan></text>
</g>
<g class="row">
<text x="1010.2" y="452.6" font-size="13.6" fill="#1e1e1e" stroke="#1e1e1e" stroke-width="0.45" stroke-linejoin="round" textLength="43.1" lengthAdjust="spacingAndGlyphs">Girasol</text>
<text y="452.6" font-size="13.6" fill="#1e1e1e" stroke="#1e1e1e" stroke-width="0.65" stroke-linejoin="round"><tspan x="1081.0" textLength="16.0" lengthAdjust="spacingAndGlyphs">97</tspan><tspan x="1097.0" textLength="12.4" lengthAdjust="spacingAndGlyphs">% </tspan><tspan x="1109.4" textLength="39.2" lengthAdjust="spacingAndGlyphs">Pamp.</tspan></text>
<rect x="1204.0" y="437.6" width="54.0" height="19.6" fill="#afafb2"/>
<text y="452.6" font-size="13.6" fill="#1e1e1e" stroke="#1e1e1e" stroke-width="0.7" stroke-linejoin="round"><tspan x="1211.3" textLength="15.6" lengthAdjust="spacingAndGlyphs">46</tspan><tspan x="1226.9" textLength="8.8" lengthAdjust="spacingAndGlyphs">%</tspan></text>
</g>
<g class="row">
<text x="1025.4" y="477.5" font-size="13.6" fill="#1e1e1e" stroke="#1e1e1e" stroke-width="0.45" stroke-linejoin="round" textLength="27.9" lengthAdjust="spacingAndGlyphs">Maíz</text>
<text y="477.5" font-size="13.6" fill="#1e1e1e" stroke="#1e1e1e" stroke-width="0.65" stroke-linejoin="round"><tspan x="1081.0" textLength="16.0" lengthAdjust="spacingAndGlyphs">79</tspan><tspan x="1097.0" textLength="12.4" lengthAdjust="spacingAndGlyphs">% </tspan><tspan x="1109.4" textLength="39.2" lengthAdjust="spacingAndGlyphs">Pamp.</tspan></text>
<rect x="1204.0" y="462.4" width="67.0" height="19.6" fill="#afafb2"/>
<text y="477.5" font-size="13.6" fill="#1e1e1e" stroke="#1e1e1e" stroke-width="0.7" stroke-linejoin="round"><tspan x="1211.3" textLength="15.6" lengthAdjust="spacingAndGlyphs">59</tspan><tspan x="1226.9" textLength="8.8" lengthAdjust="spacingAndGlyphs">%</tspan></text>
</g>
<g class="row">
<text x="1023.4" y="502.3" font-size="13.6" fill="#1e1e1e" stroke="#1e1e1e" stroke-width="0.45" stroke-linejoin="round" textLength="29.9" lengthAdjust="spacingAndGlyphs">Trigo</text>
<text y="502.3" font-size="13.6" fill="#1e1e1e" stroke="#1e1e1e" stroke-width="0.65" stroke-linejoin="round"><tspan x="1081.0" textLength="8.1" lengthAdjust="spacingAndGlyphs">9</tspan><tspan x="1089.1" textLength="4.1" lengthAdjust="spacingAndGlyphs" stroke-width="0.95">1</tspan><tspan x="1093.2" textLength="12.6" lengthAdjust="spacingAndGlyphs">% </tspan><tspan x="1105.7" textLength="39.9" lengthAdjust="spacingAndGlyphs">Pamp.</tspan></text>
<rect x="1204.0" y="487.2" width="84.9" height="19.6" fill="#afafb2"/>
<text y="502.3" font-size="13.6" fill="#1e1e1e" stroke="#1e1e1e" stroke-width="0.7" stroke-linejoin="round"><tspan x="1211.3" textLength="15.6" lengthAdjust="spacingAndGlyphs">73</tspan><tspan x="1226.9" textLength="8.8" lengthAdjust="spacingAndGlyphs">%</tspan></text>
</g>
<g class="row">
<text x="1022.9" y="527.1" font-size="13.6" fill="#1e1e1e" stroke="#1e1e1e" stroke-width="0.45" stroke-linejoin="round" textLength="30.4" lengthAdjust="spacingAndGlyphs">Arroz</text>
<text y="527.1" font-size="13.6" fill="#1e1e1e" stroke="#1e1e1e" stroke-width="0.65" stroke-linejoin="round"><tspan x="1081.0" textLength="8.1" lengthAdjust="spacingAndGlyphs">5</tspan><tspan x="1089.1" textLength="4.1" lengthAdjust="spacingAndGlyphs" stroke-width="0.95">1</tspan><tspan x="1093.2" textLength="12.6" lengthAdjust="spacingAndGlyphs">% </tspan><tspan x="1105.7" textLength="39.9" lengthAdjust="spacingAndGlyphs">Pamp.</tspan></text>
<rect x="1204.0" y="512.0" width="80.8" height="19.6" fill="#afafb2"/>
<text y="527.1" font-size="13.6" fill="#1e1e1e" stroke="#1e1e1e" stroke-width="0.7" stroke-linejoin="round"><tspan x="1211.3" textLength="7.8" lengthAdjust="spacingAndGlyphs">7</tspan><tspan x="1219.1" textLength="3.9" lengthAdjust="spacingAndGlyphs" stroke-width="1.00">1</tspan><tspan x="1223.0" textLength="8.8" lengthAdjust="spacingAndGlyphs">%</tspan></text>
</g>
<g class="row">
<text x="1008.2" y="552.0" font-size="13.6" fill="#1e1e1e" stroke="#1e1e1e" stroke-width="0.45" stroke-linejoin="round" textLength="45.1" lengthAdjust="spacingAndGlyphs">Peras y</text>
<text x="988.2" y="566.6" font-size="13.6" fill="#1e1e1e" stroke="#1e1e1e" stroke-width="0.45" stroke-linejoin="round" textLength="65.1" lengthAdjust="spacingAndGlyphs">Manzanas</text>
<text y="552.0" font-size="13.6" fill="#1e1e1e" stroke="#1e1e1e" stroke-width="0.65" stroke-linejoin="round"><tspan x="1081.0" textLength="16.1" lengthAdjust="spacingAndGlyphs">94</tspan><tspan x="1097.1" textLength="12.5" lengthAdjust="spacingAndGlyphs">% </tspan><tspan x="1109.5" textLength="39.5" lengthAdjust="spacingAndGlyphs">Patag.</tspan></text>
<rect x="1204.0" y="536.8" width="85.4" height="19.6" fill="#afafb2"/>
<text y="552.0" font-size="13.6" fill="#1e1e1e" stroke="#1e1e1e" stroke-width="0.7" stroke-linejoin="round"><tspan x="1211.3" textLength="15.6" lengthAdjust="spacingAndGlyphs">74</tspan><tspan x="1226.9" textLength="8.8" lengthAdjust="spacingAndGlyphs">%</tspan></text>
</g>
<g class="row">
<text x="1012.0" y="590.2" font-size="13.6" fill="#1e1e1e" stroke="#1e1e1e" stroke-width="0.45" stroke-linejoin="round" textLength="41.3" lengthAdjust="spacingAndGlyphs">Bovino</text>
<text y="590.2" font-size="13.6" fill="#1e1e1e" stroke="#1e1e1e" stroke-width="0.65" stroke-linejoin="round"><tspan x="1081.0" textLength="16.1" lengthAdjust="spacingAndGlyphs">92</tspan><tspan x="1097.1" textLength="12.5" lengthAdjust="spacingAndGlyphs">% </tspan><tspan x="1109.5" textLength="39.5" lengthAdjust="spacingAndGlyphs">Pamp.</tspan></text>
<rect x="1204.0" y="575.0" width="93.0" height="19.6" fill="#afafb2"/>
<text y="590.2" font-size="13.6" fill="#1e1e1e" stroke="#1e1e1e" stroke-width="0.7" stroke-linejoin="round"><tspan x="1211.3" textLength="7.8" lengthAdjust="spacingAndGlyphs">8</tspan><tspan x="1219.1" textLength="3.9" lengthAdjust="spacingAndGlyphs" stroke-width="1.00">1</tspan><tspan x="1223.0" textLength="8.8" lengthAdjust="spacingAndGlyphs">%</tspan></text>
</g>
<g class="row">
<text x="1029.7" y="615.1" font-size="13.6" fill="#1e1e1e" stroke="#1e1e1e" stroke-width="0.45" stroke-linejoin="round" textLength="23.6" lengthAdjust="spacingAndGlyphs">Uva</text>
<text y="615.1" font-size="13.6" fill="#1e1e1e" stroke="#1e1e1e" stroke-width="0.65" stroke-linejoin="round"><tspan x="1081.0" textLength="16.4" lengthAdjust="spacingAndGlyphs">95</tspan><tspan x="1097.4" textLength="12.7" lengthAdjust="spacingAndGlyphs">% </tspan><tspan x="1110.1" textLength="32.7" lengthAdjust="spacingAndGlyphs">Cuyo</tspan></text>
<rect x="1204.0" y="599.9" width="77.8" height="19.6" fill="#afafb2"/>
<text y="615.1" font-size="13.6" fill="#1e1e1e" stroke="#1e1e1e" stroke-width="0.7" stroke-linejoin="round"><tspan x="1211.3" textLength="15.6" lengthAdjust="spacingAndGlyphs">67</tspan><tspan x="1226.9" textLength="8.8" lengthAdjust="spacingAndGlyphs">%</tspan></text>
</g>
<g class="row">
<text x="1012.0" y="640.0" font-size="13.6" fill="#1e1e1e" stroke="#1e1e1e" stroke-width="0.45" stroke-linejoin="round" textLength="41.3" lengthAdjust="spacingAndGlyphs">Lácteo</text>
<text y="640.0" font-size="13.6" fill="#1e1e1e" stroke="#1e1e1e" stroke-width="0.65" stroke-linejoin="round"><tspan x="1081.0" textLength="16.2" lengthAdjust="spacingAndGlyphs">99</tspan><tspan x="1097.2" textLength="12.5" lengthAdjust="spacingAndGlyphs">% </tspan><tspan x="1109.7" textLength="39.7" lengthAdjust="spacingAndGlyphs">Pamp.</tspan></text>
<rect x="1204.0" y="624.7" width="79.8" height="19.6" fill="#afafb2"/>
<text y="640.0" font-size="13.6" fill="#1e1e1e" stroke="#1e1e1e" stroke-width="0.7" stroke-linejoin="round"><tspan x="1211.3" textLength="15.6" lengthAdjust="spacingAndGlyphs">69</tspan><tspan x="1226.9" textLength="8.8" lengthAdjust="spacingAndGlyphs">%</tspan></text>
</g>
<g class="row">
<text x="1004.7" y="664.9" font-size="13.6" fill="#1e1e1e" stroke="#1e1e1e" stroke-width="0.45" stroke-linejoin="round" textLength="48.6" lengthAdjust="spacingAndGlyphs">Forestal</text>
<text y="664.9" font-size="13.6" fill="#1e1e1e" stroke="#1e1e1e" stroke-width="0.65" stroke-linejoin="round"><tspan x="1081.0" textLength="7.7" lengthAdjust="spacingAndGlyphs">5</tspan><tspan x="1088.7" textLength="3.8" lengthAdjust="spacingAndGlyphs" stroke-width="0.95">1</tspan><tspan x="1092.5" textLength="11.9" lengthAdjust="spacingAndGlyphs">% </tspan><tspan x="1104.4" textLength="27.3" lengthAdjust="spacingAndGlyphs">NEA.</tspan></text>
<rect x="1204.0" y="649.5" width="29.0" height="19.6" fill="#afafb2"/>
<text y="664.9" font-size="13.6" fill="#1e1e1e" stroke="#1e1e1e" stroke-width="0.7" stroke-linejoin="round"><tspan x="1211.3" textLength="15.6" lengthAdjust="spacingAndGlyphs">25</tspan><tspan x="1226.9" textLength="8.8" lengthAdjust="spacingAndGlyphs">%</tspan></text>
</g>
<g class="row">
<text x="1017.3" y="689.8" font-size="13.6" fill="#1e1e1e" stroke="#1e1e1e" stroke-width="0.45" stroke-linejoin="round" textLength="36.0" lengthAdjust="spacingAndGlyphs">Yerba</text>
<text y="689.8" font-size="13.6" fill="#1e1e1e" stroke="#1e1e1e" stroke-width="0.65" stroke-linejoin="round"><tspan x="1081.0" textLength="15.3" lengthAdjust="spacingAndGlyphs">95</tspan><tspan x="1096.3" textLength="11.9" lengthAdjust="spacingAndGlyphs">% </tspan><tspan x="1108.2" textLength="27.3" lengthAdjust="spacingAndGlyphs">NEA.</tspan></text>
<rect x="1204.0" y="674.4" width="104.4" height="19.6" fill="#afafb2"/>
<text y="689.8" font-size="13.6" fill="#1e1e1e" stroke="#1e1e1e" stroke-width="0.7" stroke-linejoin="round"><tspan x="1211.3" textLength="15.6" lengthAdjust="spacingAndGlyphs">90</tspan><tspan x="1226.9" textLength="8.8" lengthAdjust="spacingAndGlyphs">%</tspan></text>
</g>
<g class="row">
<text x="1008.5" y="714.6" font-size="13.6" fill="#1e1e1e" stroke="#1e1e1e" stroke-width="0.45" stroke-linejoin="round" textLength="44.8" lengthAdjust="spacingAndGlyphs">Avícola</text>
<text y="714.6" font-size="13.6" fill="#1e1e1e" stroke="#1e1e1e" stroke-width="0.65" stroke-linejoin="round"><tspan x="1081.0" textLength="16.2" lengthAdjust="spacingAndGlyphs">98</tspan><tspan x="1097.2" textLength="12.5" lengthAdjust="spacingAndGlyphs">% </tspan><tspan x="1109.7" textLength="39.7" lengthAdjust="spacingAndGlyphs">Pamp.</tspan></text>
<rect x="1204.0" y="699.2" width="77.8" height="19.6" fill="#afafb2"/>
<text y="714.6" font-size="13.6" fill="#1e1e1e" stroke="#1e1e1e" stroke-width="0.7" stroke-linejoin="round"><tspan x="1211.3" textLength="15.6" lengthAdjust="spacingAndGlyphs">67</tspan><tspan x="1226.9" textLength="8.8" lengthAdjust="spacingAndGlyphs">%</tspan></text>
</g>
<g class="row">
<text x="1007.2" y="739.5" font-size="13.6" fill="#1e1e1e" stroke="#1e1e1e" stroke-width="0.45" stroke-linejoin="round" textLength="46.1" lengthAdjust="spacingAndGlyphs">Porcino</text>
<rect x="1204.0" y="724.1" width="93.7" height="19.6" fill="#afafb2"/>
<text y="739.5" font-size="13.6" fill="#1e1e1e" stroke="#1e1e1e" stroke-width="0.7" stroke-linejoin="round"><tspan x="1211.3" textLength="15.6" lengthAdjust="spacingAndGlyphs">82</tspan><tspan x="1226.9" textLength="8.8" lengthAdjust="spacingAndGlyphs">%</tspan></text>
</g>
</g>
<g class="chart">
<text y="240.6" font-size="23.6" fill="#262626" stroke="#262626" stroke-width="0.45" stroke-linejoin="round"><tspan x="558.2" textLength="148.6" lengthAdjust="spacingAndGlyphs">Participación</tspan> <tspan x="715.0" textLength="33.4" lengthAdjust="spacingAndGlyphs">por</tspan> <tspan x="758.2" textLength="107.3" lengthAdjust="spacingAndGlyphs">complejo</tspan></text>
<rect x="556.3" y="250.0" width="311.5" height="2.2" fill="#7a7a7a"/>
<circle cx="710.8" cy="505.2" r="121.2" fill="#5b5b5d"/>
<text y="460.8" font-size="29" font-weight="bold" fill="#f2f2f2" stroke="#f2f2f2" stroke-width="0.5" stroke-linejoin="round"><tspan x="634.1" textLength="54.7" lengthAdjust="spacingAndGlyphs">USD</tspan> <tspan x="695.2" textLength="92.5" lengthAdjust="spacingAndGlyphs">20.002</tspan></text>
<text x="650.3" y="486.4" font-size="29" font-weight="bold" fill="#f2f2f2" stroke="#f2f2f2" stroke-width="0.5" stroke-linejoin="round" textLength="121.5" lengthAdjust="spacingAndGlyphs">millones</text>
<text y="505.0" font-size="16.5" fill="#ececec" stroke="#ececec" stroke-width="0.2" stroke-linejoin="round"><tspan x="646.5" textLength="15.9" lengthAdjust="spacingAndGlyphs">en</tspan> <tspan x="668.7" textLength="106.6" lengthAdjust="spacingAndGlyphs">exportaciones</tspan></text>
<text x="681.8" y="547.2" font-size="29" font-weight="bold" fill="#f2f2f2" stroke="#f2f2f2" stroke-width="0.5" stroke-linejoin="round" textLength="58.2" lengthAdjust="spacingAndGlyphs">74%</text>
<text y="567.5" font-size="16.5" fill="#ececec" stroke="#ececec" stroke-width="0.2" stroke-linejoin="round"><tspan x="633.4" textLength="14.8" lengthAdjust="spacingAndGlyphs">de</tspan> <tspan x="654.6" textLength="21.2" lengthAdjust="spacingAndGlyphs">las</tspan> <tspan x="681.8" textLength="106.9" lengthAdjust="spacingAndGlyphs">exportaciones</tspan></text>
<text x="670.0" y="585.8" font-size="16.5" fill="#ececec" stroke="#ececec" stroke-width="0.2" stroke-linejoin="round" textLength="82.4" lengthAdjust="spacingAndGlyphs">argentinas</text>
<g class="item item-soja">
<circle cx="710.8" cy="346.2" r="23.2" fill="#7f7f81"/>
<g transform="translate(710.8 346.2) scale(1.450)" fill="#fafafa" stroke="none"><path d="M-0.8,-1.6 C-0.8,-5 0.4,-8 2,-9.6 C3,-10.6 4.2,-11 5.2,-10.8 C6.8,-8.6 7,-5.6 6.2,-2.6 L3,0.6Z"/><circle cx="-5.2" cy="5" r="3.7"/><circle cx="0.8" cy="3.4" r="3.9"/><circle cx="5.6" cy="-0.2" r="3.7"/><path d="M-8.6,3.6 L-1.6,-0.2 L4,-3.4 L8.6,1.8 L3.2,6.6 L-4.4,8.6Z"/><circle cx="-5" cy="5.2" r="1.1" fill="#7f7f81"/><circle cx="1.1" cy="3.6" r="1.2" fill="#7f7f81"/><circle cx="6" cy="-0.2" r="1.2" fill="#7f7f81"/><path d="M-6,1.6 C-2.4,1 1.6,-0.6 4.4,-3.6" fill="none" stroke="#7f7f81" stroke-width="0.45" opacity="0.7"/></g>
<text y="296.3" font-size="13.4" font-weight="bold" fill="#141414" stroke="#141414" stroke-width="1.1" stroke-linejoin="round"><tspan x="689.1" textLength="18.1" lengthAdjust="spacingAndGlyphs">38</tspan><tspan x="707.2" textLength="4.0" lengthAdjust="spacingAndGlyphs">,</tspan><tspan x="711.2" textLength="9.1" lengthAdjust="spacingAndGlyphs">4</tspan><tspan x="720.3" textLength="12.6" lengthAdjust="spacingAndGlyphs">%</tspan></text>
<text x="696.3" y="310.9" font-size="11.9" fill="#1e1e1e" stroke="#1e1e1e" stroke-width="0.42" stroke-linejoin="round" textLength="29.0" lengthAdjust="spacingAndGlyphs">Soja</text>
</g>
<g class="item item-maiz">
<circle cx="772.0" cy="358.6" r="19.0" fill="#7f7f81"/>
<g transform="translate(772.0 358.6) scale(1.188)" fill="#fafafa" stroke="none"><path d="M-4.6,-6.6 C-4.6,-9.6 -2.6,-11.4 0,-11.4 C2.6,-11.4 4.6,-9.6 4.6,-6.6 L4.6,2.6 L-4.6,2.6Z"/><path d="M-4.6,-8.2 H4.6 M-4.6,-5.5 H4.6 M-4.6,-2.8 H4.6 M-4.6,-0.1 H4.6 M-2.3,-11 V2.6 M0,-11.4 V2.6 M2.3,-11 V2.6" fill="none" stroke="#7f7f81" stroke-width="0.7"/><path d="M-0.5,10.6 L-6.4,10.6 L-6.9,3 C-4,3.6 -1.6,5 -0.5,7.4Z M0.5,10.6 L6.4,10.6 L6.9,3 C4,3.6 1.6,5 0.5,7.4Z"/><path d="M-3.4,7 V10.6 M3.4,7 V10.6" fill="none" stroke="#7f7f81" stroke-width="0.6"/></g>
<text y="343.8" font-size="13.4" font-weight="bold" fill="#141414" stroke="#141414" stroke-width="1.1" stroke-linejoin="round"><tspan x="799.2" textLength="5.8" lengthAdjust="spacingAndGlyphs" stroke-width="1.40">1</tspan><tspan x="805.0" textLength="8.8" lengthAdjust="spacingAndGlyphs">6</tspan><tspan x="813.8" textLength="3.9" lengthAdjust="spacingAndGlyphs">,</tspan><tspan x="817.7" textLength="8.8" lengthAdjust="spacingAndGlyphs">6</tspan><tspan x="826.5" textLength="12.3" lengthAdjust="spacingAndGlyphs">%</tspan></text>
<text x="798.8" y="357.2" font-size="11.9" fill="#1e1e1e" stroke="#1e1e1e" stroke-width="0.42" stroke-linejoin="round" textLength="30.4" lengthAdjust="spacingAndGlyphs">Maíz</text>
</g>
<g class="item item-trigo">
<circle cx="816.7" cy="386.7" r="17.8" fill="#7f7f81"/>
<g transform="translate(816.7 386.7) scale(1.113)" fill="#fafafa" stroke="none"><g transform="translate(-4.6 0.4) rotate(12)"><path d="M0,-10.2 C4.2,-5.6 4.2,3.6 0.5,7.4 L0.3,10.2 L-0.3,10.2 L-0.5,7.4 C-4.2,3.6 -4.2,-5.6 0,-10.2Z"/><path d="M-3.4,-6.9 L0,-5.6 L3.4,-6.9 M-3.4,-3.2 L0,-1.9 L3.4,-3.2 M-3.4,0.4 L0,1.7 L3.4,0.4 M-3.4,4.1 L0,5.4 L3.4,4.1 M0,-8.2 V7.2" fill="none" stroke="#7f7f81" stroke-width="0.55"/></g><g transform="translate(2.6 -1.2) rotate(34)"><path d="M0,-8.8 C4.1,-4.8 4.1,3.1 0.5,6.3 L0.3,8.8 L-0.3,8.8 L-0.5,6.3 C-4.1,3.1 -4.1,-4.8 0,-8.8Z"/><path d="M-3.2,-6.1 L0,-4.8 L3.2,-6.1 M-3.2,-3.0 L0,-1.7 L3.2,-3.0 M-3.2,0.2 L0,1.5 L3.2,0.2 M-3.2,3.3 L0,4.6 L3.2,3.3 M0,-7.0 V6.1" fill="none" stroke="#7f7f81" stroke-width="0.55"/></g></g>
<text y="384.2" font-size="13.4" font-weight="bold" fill="#141414" stroke="#141414" stroke-width="1.1" stroke-linejoin="round"><tspan x="845.4" textLength="8.5" lengthAdjust="spacingAndGlyphs">9</tspan><tspan x="853.9" textLength="3.7" lengthAdjust="spacingAndGlyphs">,</tspan><tspan x="857.6" textLength="8.5" lengthAdjust="spacingAndGlyphs">2</tspan><tspan x="866.1" textLength="11.8" lengthAdjust="spacingAndGlyphs">%</tspan></text>
<text x="845.0" y="396.8" font-size="11.9" fill="#1e1e1e" stroke="#1e1e1e" stroke-width="0.42" stroke-linejoin="round" textLength="33.0" lengthAdjust="spacingAndGlyphs">Trigo</text>
</g>
<g class="item item-bovino">
<circle cx="848.8" cy="426.3" r="18.1" fill="#7f7f81"/>
<g transform="translate(848.8 426.3) scale(1.131)" fill="#fafafa" stroke="none"><path d="M-10.6,-5.6 C-9.6,-6.2 -7,-6.2 -4,-6 L4,-5.8 C6.4,-5.8 7.6,-4.6 8.6,-3.2 L11.8,-1.6 C12.4,0.4 12.2,2.4 11.6,4 L9.4,4.8 L7.4,2.8 L6.2,3.6 L6.2,7.4 L3.6,7.4 L3.4,3.6 L-3.2,3.4 L-4.2,7.4 L-6.4,7.4 L-6.8,3.6 L-8.2,7.4 L-10.2,7.4 L-9.8,2 C-10.8,0.4 -11,-3 -10.6,-5.6Z"/><path d="M-10.6,-5.4 C-11.8,-4 -12,-1 -11.6,1.4 L-10.8,1.2 C-11,-1 -10.9,-3.6 -10.2,-5Z"/></g>
<text y="424.2" font-size="13.4" font-weight="bold" fill="#141414" stroke="#141414" stroke-width="1.1" stroke-linejoin="round"><tspan x="875.1" textLength="8.8" lengthAdjust="spacingAndGlyphs">7</tspan><tspan x="883.9" textLength="3.9" lengthAdjust="spacingAndGlyphs">,</tspan><tspan x="887.7" textLength="8.8" lengthAdjust="spacingAndGlyphs">4</tspan><tspan x="896.5" textLength="12.3" lengthAdjust="spacingAndGlyphs">%</tspan></text>
<text x="874.7" y="437.2" font-size="11.9" fill="#1e1e1e" stroke="#1e1e1e" stroke-width="0.42" stroke-linejoin="round" textLength="45.3" lengthAdjust="spacingAndGlyphs">Bovino</text>
</g>
<g class="item item-pesquero">
<circle cx="866.3" cy="473.3" r="16.9" fill="#7f7f81"/>
<g transform="translate(866.3 473.3) scale(1.056)" fill="#fafafa" stroke="none"><path d="M9.6,0.4 C8.6,4 4.6,6.2 0.6,6 C-2.4,5.8 -5,4.2 -6.6,2.2 L-10.6,5 L-9.2,0.4 L-10.6,-4.2 L-6.6,-1.6 C-5.4,-3.2 -3.6,-4.4 -1.6,-5 L0.4,-6.8 L3.6,-5.2 C6.6,-4.6 9,-2.4 9.6,0.4Z"/><circle cx="6.1" cy="-0.2" r="0.9" fill="#7f7f81"/></g>
<text y="471.7" font-size="13.4" font-weight="bold" fill="#141414" stroke="#141414" stroke-width="1.1" stroke-linejoin="round"><tspan x="891.2" textLength="8.9" lengthAdjust="spacingAndGlyphs">4</tspan><tspan x="900.1" textLength="3.9" lengthAdjust="spacingAndGlyphs">,</tspan><tspan x="904.1" textLength="5.9" lengthAdjust="spacingAndGlyphs" stroke-width="1.40">1</tspan><tspan x="909.9" textLength="12.5" lengthAdjust="spacingAndGlyphs">%</tspan></text>
<text x="890.8" y="484.3" font-size="11.9" fill="#1e1e1e" stroke="#1e1e1e" stroke-width="0.42" stroke-linejoin="round" textLength="63.0" lengthAdjust="spacingAndGlyphs">Pesquero</text>
</g>
<g class="item item-mani">
<circle cx="868.8" cy="515.8" r="15.9" fill="#7f7f81"/>
<g transform="translate(868.8 515.8) scale(0.994)" fill="#fafafa" stroke="none"><g fill="none" stroke="#f0f0f0" stroke-width="1.3"><path d="M-9.6,5.6 C-10.6,2.6 -8.6,-0.4 -5.6,-1 C-4.2,-1.4 -3.6,-2.6 -3.4,-4 C-3,-7.6 0.2,-9.8 3.4,-8.8 C6.6,-7.8 7.6,-4 6,-1.2 C5.2,0.2 3.6,0.8 2.4,1.8 C1.2,2.8 1,4.4 0.2,5.8 C-1.4,8.6 -5,9.4 -7.6,7.8 C-8.6,7.2 -9.2,6.6 -9.6,5.6Z"/><circle cx="2" cy="-4.2" r="2.1"/><circle cx="-4.6" cy="3.8" r="2.1"/><ellipse cx="6.6" cy="6.4" rx="4.9" ry="3"/><path d="M4,6.4 H9.2" stroke-width="1"/></g></g>
<text y="515.0" font-size="13.4" font-weight="bold" fill="#141414" stroke="#141414" stroke-width="1.1" stroke-linejoin="round"><tspan x="893.7" textLength="8.7" lengthAdjust="spacingAndGlyphs">2</tspan><tspan x="902.4" textLength="3.8" lengthAdjust="spacingAndGlyphs">,</tspan><tspan x="906.2" textLength="8.7" lengthAdjust="spacingAndGlyphs">3</tspan><tspan x="914.9" textLength="12.2" lengthAdjust="spacingAndGlyphs">%</tspan></text>
<text x="893.3" y="528.0" font-size="11.9" fill="#1e1e1e" stroke="#1e1e1e" stroke-width="0.42" stroke-linejoin="round" textLength="33.4" lengthAdjust="spacingAndGlyphs">Maní</text>
</g>
<g class="item item-cebada">
<circle cx="860.3" cy="558.3" r="15.3" fill="#7f7f81"/>
<g transform="translate(860.3 558.3) scale(0.956)" fill="#fafafa" stroke="none"><path d="M0,-12.2 C1.9,-10 1.9,-7 0.9,-5 L0.9,-2.6 C3,-2.8 5.2,-4 6.2,-5.4 C6.6,-2.4 4.4,0.6 0.9,1 L0.9,4.6 C3,4.4 5.2,3.2 6.2,1.8 C6.6,4.8 4.4,7.8 0.9,8.2 L0.7,13 L-0.7,13 L-0.9,8.2 C-4.4,7.8 -6.6,4.8 -6.2,1.8 C-5.2,3.2 -3,4.4 -0.9,4.6 L-0.9,1 C-4.4,0.6 -6.6,-2.4 -6.2,-5.4 C-5.2,-4 -3,-2.8 -0.9,-2.6 L-0.9,-5 C-1.9,-7 -1.9,-10 0,-12.2Z"/></g>
<text y="558.0" font-size="13.4" font-weight="bold" fill="#141414" stroke="#141414" stroke-width="1.1" stroke-linejoin="round"><tspan x="884.6" textLength="8.6" lengthAdjust="spacingAndGlyphs">2</tspan><tspan x="893.2" textLength="3.8" lengthAdjust="spacingAndGlyphs">,</tspan><tspan x="897.0" textLength="5.7" lengthAdjust="spacingAndGlyphs" stroke-width="1.40">1</tspan><tspan x="902.6" textLength="12.0" lengthAdjust="spacingAndGlyphs">%</tspan></text>
<text x="884.2" y="570.8" font-size="11.9" fill="#1e1e1e" stroke="#1e1e1e" stroke-width="0.42" stroke-linejoin="round" textLength="55.8" lengthAdjust="spacingAndGlyphs">Cebada</text>
</g>
<g class="item item-uva">
<circle cx="838.8" cy="599.2" r="16.0" fill="#7f7f81"/>
<g transform="translate(838.8 599.2) scale(1.000)" fill="#fafafa" stroke="none"><path d="M-2.6,-10.6 L-0.6,-11 L1.2,-5.6 L4,-8 L7.4,-7.2 C8.4,-4 8.2,-1 7,1.6 C6.4,5.4 3.8,9 0.6,11.2 C-2.8,9.6 -5.2,6.4 -6.4,3 C-8.6,1 -9,-2 -7.6,-4 C-6,-5.8 -3.4,-5.8 -1.6,-4.6Z"/><g fill="#7f7f81"><circle cx="0.2" cy="-2" r="0.95"/><circle cx="4.6" cy="-1.2" r="0.95"/><circle cx="-3.6" cy="1.6" r="0.95"/><circle cx="0.8" cy="2.2" r="0.95"/><circle cx="-1.2" cy="5.6" r="0.95"/><circle cx="3.2" cy="5" r="0.95"/><circle cx="0.6" cy="8.4" r="0.85"/><circle cx="4.8" cy="-5" r="0.8"/></g></g>
<text y="597.1" font-size="13.4" font-weight="bold" fill="#141414" stroke="#141414" stroke-width="1.1" stroke-linejoin="round"><tspan x="864.1" textLength="8.5" lengthAdjust="spacingAndGlyphs">2</tspan><tspan x="872.6" textLength="3.7" lengthAdjust="spacingAndGlyphs">,</tspan><tspan x="876.3" textLength="5.6" lengthAdjust="spacingAndGlyphs" stroke-width="1.40">1</tspan><tspan x="881.9" textLength="11.9" lengthAdjust="spacingAndGlyphs">%</tspan></text>
<text x="863.7" y="610.6" font-size="11.9" fill="#1e1e1e" stroke="#1e1e1e" stroke-width="0.42" stroke-linejoin="round" textLength="25.8" lengthAdjust="spacingAndGlyphs">Uva</text>
</g>
<g class="item item-lacteo">
<circle cx="807.5" cy="631.3" r="15.8" fill="#7f7f81"/>
<g transform="translate(807.5 631.3) scale(0.988)" fill="#fafafa" stroke="none"><path d="M-4.4,-7.8 L-2.6,-4.6 L2.8,-4.6 L4.6,-7.8 L5.6,-4 L9.8,-4.6 C9.4,-2 7.6,-0.6 5.4,-0.4 L5,9.4 L-4.6,9.4 L-5,-0.4 C-7.2,-0.6 -9,-2 -9.4,-4.6 L-5.2,-4Z" fill-opacity="0.88"/><g fill="none" stroke="#7f7f81" stroke-width="0.9"><path d="M-3,-1.2 C-1.8,-2.8 -0.4,-2.6 0.2,-1 M1,-1.6 C2,-2.8 3.4,-2.2 3.4,-0.6 M-3,2.2 C-1.4,3.6 1.6,3.6 3.2,2.2 M-4.6,5.2 H5 M-1.6,5.2 V9.4 M1.8,5.2 V9.4 M-7.6,-3 L-5.4,-2 M7.8,-3 L5.8,-2 M-1.4,0.6 V1.6 M1.8,0.6 V1.6"/></g></g>
<text y="640.4" font-size="13.4" font-weight="bold" fill="#141414" stroke="#141414" stroke-width="1.1" stroke-linejoin="round"><tspan x="829.9" textLength="8.7" lengthAdjust="spacingAndGlyphs">2</tspan><tspan x="838.6" textLength="3.8" lengthAdjust="spacingAndGlyphs">,</tspan><tspan x="842.4" textLength="8.7" lengthAdjust="spacingAndGlyphs">0</tspan><tspan x="851.1" textLength="12.2" lengthAdjust="spacingAndGlyphs">%</tspan></text>
<text x="829.5" y="653.8" font-size="11.9" fill="#1e1e1e" stroke="#1e1e1e" stroke-width="0.42" stroke-linejoin="round" textLength="45.5" lengthAdjust="spacingAndGlyphs">Lácteo</text>
</g>
<g class="item item-girasol">
<circle cx="766.8" cy="654.0" r="15.2" fill="#7f7f81"/>
<g transform="translate(766.8 654.0) scale(0.950)" fill="#fafafa" stroke="none"><ellipse cx="0" cy="-7.9" rx="1.75" ry="2.5" transform="rotate(0)"/><ellipse cx="0" cy="-7.9" rx="1.75" ry="2.5" transform="rotate(36)"/><ellipse cx="0" cy="-7.9" rx="1.75" ry="2.5" transform="rotate(72)"/><ellipse cx="0" cy="-7.9" rx="1.75" ry="2.5" transform="rotate(108)"/><ellipse cx="0" cy="-7.9" rx="1.75" ry="2.5" transform="rotate(144)"/><ellipse cx="0" cy="-7.9" rx="1.75" ry="2.5" transform="rotate(180)"/><ellipse cx="0" cy="-7.9" rx="1.75" ry="2.5" transform="rotate(216)"/><ellipse cx="0" cy="-7.9" rx="1.75" ry="2.5" transform="rotate(252)"/><ellipse cx="0" cy="-7.9" rx="1.75" ry="2.5" transform="rotate(288)"/><ellipse cx="0" cy="-7.9" rx="1.75" ry="2.5" transform="rotate(324)"/><circle r="5.4" fill="#cfcfcf"/><path d="M-3.6,-2 H3.6 M-4.4,0.6 H4.4 M-3.4,3 H3.4 M-1.6,-4.6 V4.6 M1.6,-4.6 V4.6" fill="none" stroke="#7f7f81" stroke-width="0.5"/></g>
<text y="676.4" font-size="13.4" font-weight="bold" fill="#141414" stroke="#141414" stroke-width="1.1" stroke-linejoin="round"><tspan x="784.1" textLength="5.6" lengthAdjust="spacingAndGlyphs" stroke-width="1.40">1</tspan><tspan x="789.7" textLength="3.7" lengthAdjust="spacingAndGlyphs">,</tspan><tspan x="793.4" textLength="8.5" lengthAdjust="spacingAndGlyphs">9</tspan><tspan x="801.9" textLength="11.9" lengthAdjust="spacingAndGlyphs">%</tspan></text>
<text x="783.7" y="690.0" font-size="11.9" fill="#1e1e1e" stroke="#1e1e1e" stroke-width="0.42" stroke-linejoin="round" textLength="46.8" lengthAdjust="spacingAndGlyphs">Girasol</text>
</g>
<g class="item item-limon">
<circle cx="720.6" cy="663.6" r="15.2" fill="#7f7f81"/>
<g transform="translate(720.6 663.6) scale(0.950)" fill="#fafafa" stroke="none"><path d="M0.6,-5.6 C4.2,-5.2 6.4,-2 6.4,2 C6.4,5.6 4.6,8.4 2,9.4 L1.2,11 L0,9.8 C-3.6,9.4 -5.8,6.2 -5.8,2.4 C-5.8,-0.6 -4.6,-3.2 -2.8,-4.4 C-1.8,-5.2 -0.6,-5.6 0.6,-5.6Z"/><path d="M-7.6,-3.4 C-7.2,-6.8 -4.6,-8.8 -1,-8.6 C-1.4,-7.2 -2.6,-6 -4,-5.4 C-5.4,-5 -6.6,-4.4 -7.6,-3.4Z"/></g>
<text y="695.3" font-size="13.4" font-weight="bold" fill="#141414" stroke="#141414" stroke-width="1.1" stroke-linejoin="round"><tspan x="705.1" textLength="5.7" lengthAdjust="spacingAndGlyphs" stroke-width="1.40">1</tspan><tspan x="710.8" textLength="3.8" lengthAdjust="spacingAndGlyphs">,</tspan><tspan x="714.6" textLength="8.7" lengthAdjust="spacingAndGlyphs">3</tspan><tspan x="723.3" textLength="12.1" lengthAdjust="spacingAndGlyphs">%</tspan></text>
<text x="700.5" y="708.8" font-size="11.9" fill="#1e1e1e" stroke="#1e1e1e" stroke-width="0.42" stroke-linejoin="round" textLength="40.3" lengthAdjust="spacingAndGlyphs">Limón</text>
</g>
<g class="item item-peras">
<circle cx="674.6" cy="659.8" r="14.6" fill="#7f7f81"/>
<g transform="translate(674.6 659.8) scale(0.912)" fill="#fafafa" stroke="none"><path d="M0.2,-3.2 C2,-4.8 5,-4.8 6.8,-3 C9,-0.8 8.8,3.6 6.6,6.8 C4.8,9.6 2.4,10.8 0.2,9.6 C-2,10.8 -4.6,9.6 -6.2,6.8 C-8.4,3.6 -8.6,-0.8 -6.4,-3 C-4.6,-4.8 -1.6,-4.8 0.2,-3.2Z"/><path d="M-6.4,-9.4 C-4.4,-9.6 -2.6,-8.8 -1.4,-7.2 L-0.8,-9.6 L0.4,-9.4 L-0.2,-5.6 C-2.8,-5 -5.2,-6.6 -6.4,-9.4Z"/><path d="M5.6,-0.8 C6.8,0.4 7,2.2 6.6,3.6" fill="none" stroke="#7f7f81" stroke-width="0.8"/></g>
<text y="684.1" font-size="13.4" font-weight="bold" fill="#141414" stroke="#141414" stroke-width="1.1" stroke-linejoin="round"><tspan x="632.4" textLength="5.8" lengthAdjust="spacingAndGlyphs" stroke-width="1.40">1</tspan><tspan x="638.2" textLength="3.8" lengthAdjust="spacingAndGlyphs">,</tspan><tspan x="642.0" textLength="8.7" lengthAdjust="spacingAndGlyphs">3</tspan><tspan x="650.7" textLength="12.2" lengthAdjust="spacingAndGlyphs">%</tspan></text>
<text x="614.7" y="696.5" font-size="11.9" fill="#1e1e1e" stroke="#1e1e1e" stroke-width="0.42" stroke-linejoin="round" textLength="48.6" lengthAdjust="spacingAndGlyphs">Peras y</text>
<text x="593.3" y="709.8" font-size="11.9" fill="#1e1e1e" stroke="#1e1e1e" stroke-width="0.42" stroke-linejoin="round" textLength="70.0" lengthAdjust="spacingAndGlyphs">Manzanas</text>
</g>
<g class="item item-forestal">
<circle cx="631.6" cy="643.2" r="14.7" fill="#7f7f81"/>
<g transform="translate(631.6 643.2) scale(0.919)" fill="#fafafa" stroke="none"><path d="M-6.6,-7.6 C-4.6,-4 -3.6,0 -3.8,4.6 L-5.8,4.6 L-5.8,6 L-7.4,6 L-7.4,4.6 L-9.6,4.6 C-9.8,0 -8.6,-4 -6.6,-7.6Z"/><path d="M0,-9.8 C2.2,-5.6 3.2,-1 3,4.6 L0.8,4.6 L0.8,6 L-0.8,6 L-0.8,4.6 L-3,4.6 C-3.2,-1 -2.2,-5.6 0,-9.8Z"/><path d="M6.6,-7.6 C8.6,-4 9.8,0 9.6,4.6 L7.4,4.6 L7.4,6 L5.8,6 L5.8,4.6 L3.8,4.6 C3.6,0 4.6,-4 6.6,-7.6Z"/><path d="M-10.2,7.8 H10.2 V9.4 H-10.2Z"/></g>
<text y="655.3" font-size="13.4" font-weight="bold" fill="#141414" stroke="#141414" stroke-width="1.1" stroke-linejoin="round"><tspan x="581.7" textLength="5.8" lengthAdjust="spacingAndGlyphs" stroke-width="1.40">1</tspan><tspan x="587.5" textLength="3.9" lengthAdjust="spacingAndGlyphs">,</tspan><tspan x="591.4" textLength="8.8" lengthAdjust="spacingAndGlyphs">0</tspan><tspan x="600.3" textLength="12.3" lengthAdjust="spacingAndGlyphs">%</tspan></text>
<text x="560.0" y="668.7" font-size="11.9" fill="#1e1e1e" stroke="#1e1e1e" stroke-width="0.42" stroke-linejoin="round" textLength="53.0" lengthAdjust="spacingAndGlyphs">Forestal</text>
</g>
<g class="item item-legumbres">
<circle cx="596.1" cy="615.6" r="15.6" fill="#7f7f81"/>
<g transform="translate(596.1 615.6) scale(0.975)" fill="#fafafa" stroke="none"><path d="M-1.6,-8.4 C1.2,-8.8 3,-7.4 3.6,-5.2 C4.6,-7.4 7.6,-7.6 9.2,-5.6 C11.2,-3 10.6,1.6 8,5 C5.4,8.6 1.2,11 -3,10.4 C-7,9.8 -9.6,6.4 -9.2,2 C-8.8,-3 -5.6,-7.8 -1.6,-8.4Z"/><path d="M2.4,-6.4 C-0.4,-6 -1.6,-3.4 -0.6,-1 C0.4,1.2 2.8,1.8 5,0.8 M1.8,-5 C0.6,-3.6 1.2,-1.6 2.8,-0.8 L6.6,2.6" fill="none" stroke="#7f7f81" stroke-width="0.9"/></g>
<text y="617.5" font-size="13.4" font-weight="bold" fill="#141414" stroke="#141414" stroke-width="1.1" stroke-linejoin="round"><tspan x="540.1" textLength="8.7" lengthAdjust="spacingAndGlyphs">0</tspan><tspan x="548.8" textLength="3.8" lengthAdjust="spacingAndGlyphs">,</tspan><tspan x="552.6" textLength="8.7" lengthAdjust="spacingAndGlyphs">9</tspan><tspan x="561.3" textLength="12.1" lengthAdjust="spacingAndGlyphs">%</tspan></text>
<text x="497.5" y="630.8" font-size="11.9" fill="#1e1e1e" stroke="#1e1e1e" stroke-width="0.42" stroke-linejoin="round" textLength="76.3" lengthAdjust="spacingAndGlyphs">Legumbres</text>
</g>
<g class="item item-avicola">
<circle cx="567.7" cy="574.3" r="14.4" fill="#7f7f81"/>
<g transform="translate(567.7 574.3) scale(0.900)" fill="#fafafa" stroke="none"><path d="M-5.6,-11.4 C-3.6,-11.6 -2.4,-10 -2.2,-8 C-1.8,-5 -0.4,-2.6 2.4,-2 C5.4,-1.4 7.4,-3.6 10.4,-5.4 C10.6,-1.4 9.6,2.8 6.6,5.4 L4.4,7 L3.6,11 L4.8,11.6 L1.6,11.6 L2,7.6 L0,7.6 L-0.6,11 L0.6,11.6 L-2.8,11.6 L-2.2,7.2 C-5.6,5.6 -7.4,2 -7.2,-2 C-7.2,-4 -6.4,-5.6 -6.8,-7.4 L-8.8,-7.6 L-7,-9.2 C-7,-10.2 -6.6,-11 -5.6,-11.4Z"/></g>
<text y="576.3" font-size="13.4" font-weight="bold" fill="#141414" stroke="#141414" stroke-width="1.1" stroke-linejoin="round"><tspan x="514.2" textLength="8.8" lengthAdjust="spacingAndGlyphs">0</tspan><tspan x="523.0" textLength="3.9" lengthAdjust="spacingAndGlyphs">,</tspan><tspan x="526.8" textLength="8.8" lengthAdjust="spacingAndGlyphs">9</tspan><tspan x="535.6" textLength="12.3" lengthAdjust="spacingAndGlyphs">%</tspan></text>
<text x="499.2" y="589.5" font-size="11.9" fill="#1e1e1e" stroke="#1e1e1e" stroke-width="0.42" stroke-linejoin="round" textLength="49.1" lengthAdjust="spacingAndGlyphs">Avícola</text>
</g>
<g class="item item-arroz">
<circle cx="553.5" cy="526.7" r="14.4" fill="#7f7f81"/>
<g transform="translate(553.5 526.7) scale(0.900)" fill="#fafafa" stroke="none"><ellipse cx="0" cy="-5.8" rx="6.2" ry="2.7" transform="rotate(38 0 -5.8)"/><ellipse cx="-5.8" cy="3.6" rx="6" ry="2.6" transform="rotate(72 -5.8 3.6)"/><ellipse cx="5" cy="5.2" rx="6.2" ry="2.6" transform="rotate(-22 5 5.2)"/></g>
<text y="524.0" font-size="13.4" font-weight="bold" fill="#141414" stroke="#141414" stroke-width="1.1" stroke-linejoin="round"><tspan x="497.1" textLength="9.3" lengthAdjust="spacingAndGlyphs">0</tspan><tspan x="506.4" textLength="4.1" lengthAdjust="spacingAndGlyphs">,</tspan><tspan x="510.5" textLength="9.3" lengthAdjust="spacingAndGlyphs">4</tspan><tspan x="519.8" textLength="13.0" lengthAdjust="spacingAndGlyphs">%</tspan></text>
<text x="498.7" y="537.2" font-size="11.9" fill="#1e1e1e" stroke="#1e1e1e" stroke-width="0.42" stroke-linejoin="round" textLength="34.3" lengthAdjust="spacingAndGlyphs">Arroz</text>
</g>
<g class="item item-te">
<circle cx="554.4" cy="477.2" r="14.0" fill="#7f7f81"/>
<g transform="translate(554.4 477.2) scale(0.875)" fill="#fafafa" stroke="none"><path d="M0,-8.6 C1.6,-7.6 2.8,-6.4 3.4,-5 C5.4,-6 8,-6.4 11.2,-6 C11.4,-1 8.6,3.2 4.4,5.2 C3.2,6 1.8,6.6 0.8,7 L0,9.2 L-0.8,7 C-1.8,6.6 -3.2,6 -4.4,5.2 C-8.6,3.2 -11.4,-1 -11.2,-6 C-8,-6.4 -5.4,-6 -3.4,-5 C-2.8,-6.4 -1.6,-7.6 0,-8.6Z"/><g fill="none" stroke="#7f7f81" stroke-width="0.7"><path d="M0,-6.4 V5.6 M-3.2,-3.6 C-1.4,-1 -1.4,2.6 -3,5 M3.2,-3.6 C1.4,-1 1.4,2.6 3,5 M-9,-4.2 C-6.6,-2.2 -4.6,0.6 -4,4 M9,-4.2 C6.6,-2.2 4.6,0.6 4,4 M-7.6,-1 H-5 M5,-1 H7.6 M-2.4,0 H2.4"/></g></g>
<text y="475.7" font-size="13.4" font-weight="bold" fill="#141414" stroke="#141414" stroke-width="1.1" stroke-linejoin="round"><tspan x="498.7" textLength="8.9" lengthAdjust="spacingAndGlyphs">0</tspan><tspan x="507.6" textLength="3.9" lengthAdjust="spacingAndGlyphs">,</tspan><tspan x="511.5" textLength="8.9" lengthAdjust="spacingAndGlyphs">2</tspan><tspan x="520.5" textLength="12.4" lengthAdjust="spacingAndGlyphs">%</tspan></text>
<text x="518.3" y="488.9" font-size="11.9" fill="#1e1e1e" stroke="#1e1e1e" stroke-width="0.42" stroke-linejoin="round" textLength="15.0" lengthAdjust="spacingAndGlyphs">Té</text>
</g>
<g class="item item-yerba">
<circle cx="571.0" cy="430.0" r="14.4" fill="#7f7f81"/>
<g transform="translate(571.0 430.0) scale(0.900)" fill="#fafafa" stroke="none"><path d="M0,-6.6 C2,-4.4 2.8,-2 2.6,0.6 C3.6,-1.6 5,-3 6.8,-3.8 C7,-2 6.6,-0.2 5.8,1.4 C7.4,0.4 9,0 10.6,0.2 C9.6,4.4 5.6,7.2 0,7.2 C-5.6,7.2 -9.6,4.4 -10.6,0.2 C-9,0 -7.4,0.4 -5.8,1.4 C-6.6,-0.2 -7,-2 -6.8,-3.8 C-5,-3 -3.6,-1.6 -2.6,0.6 C-2.8,-2 -2,-4.4 0,-6.6Z"/><path d="M0,-3 V6 M-5.6,1.6 L-1.6,6 M5.6,1.6 L1.6,6" fill="none" stroke="#7f7f81" stroke-width="0.5" opacity="0.7"/></g>
<text y="426.6" font-size="13.4" font-weight="bold" fill="#141414" stroke="#141414" stroke-width="1.1" stroke-linejoin="round"><tspan x="516.2" textLength="8.5" lengthAdjust="spacingAndGlyphs">0</tspan><tspan x="524.7" textLength="3.7" lengthAdjust="spacingAndGlyphs">,</tspan><tspan x="528.4" textLength="8.5" lengthAdjust="spacingAndGlyphs">2</tspan><tspan x="536.9" textLength="11.9" lengthAdjust="spacingAndGlyphs">%</tspan></text>
<text x="510.0" y="440.3" font-size="11.9" fill="#1e1e1e" stroke="#1e1e1e" stroke-width="0.42" stroke-linejoin="round" textLength="39.2" lengthAdjust="spacingAndGlyphs">Yerba</text>
</g>
<g class="item item-porcino">
<circle cx="600.9" cy="390.3" r="12.8" fill="#7f7f81"/>
<g transform="translate(600.9 390.3) scale(0.800)" fill="#fafafa" stroke="none"><path d="M-11.6,-2.6 L-9.4,-4 L-8.6,-5.8 L-6.8,-4.8 C-4,-6.4 2,-6.6 5.6,-5.2 C8,-4.2 9,-1.8 8.6,0.6 L8.2,4.4 L5.8,4.4 L5.4,2.4 L2.4,2.6 L2,4.4 L-0.4,4.4 L-0.8,2.6 L-3.8,2.4 L-4.4,4.4 L-6.6,4.4 L-7,1.8 C-8.6,1.4 -10.4,0.6 -11.8,-0.4Z"/><path d="M8.4,-2.4 C10,-3.6 10.6,-1.6 9.2,-1" fill="none" stroke="#f0f0f0" stroke-width="0.8"/></g>
<text y="388.2" font-size="13.4" font-weight="bold" fill="#141414" stroke="#141414" stroke-width="1.1" stroke-linejoin="round"><tspan x="550.4" textLength="8.7" lengthAdjust="spacingAndGlyphs">0</tspan><tspan x="559.1" textLength="3.8" lengthAdjust="spacingAndGlyphs">,</tspan><tspan x="562.9" textLength="5.7" lengthAdjust="spacingAndGlyphs" stroke-width="1.40">1</tspan><tspan x="568.7" textLength="12.1" lengthAdjust="spacingAndGlyphs">%</tspan></text>
<text x="531.7" y="401.4" font-size="11.9" fill="#1e1e1e" stroke="#1e1e1e" stroke-width="0.42" stroke-linejoin="round" textLength="49.5" lengthAdjust="spacingAndGlyphs">Porcino</text>
</g>
<g class="item item-resto">
<circle cx="644.2" cy="360.8" r="18.0" fill="#868688"/>
<text y="350.5" font-size="13.4" font-weight="bold" fill="#141414" stroke="#141414" stroke-width="1.1" stroke-linejoin="round"><tspan x="583.4" textLength="8.6" lengthAdjust="spacingAndGlyphs">7</tspan><tspan x="592.0" textLength="3.8" lengthAdjust="spacingAndGlyphs">,</tspan><tspan x="595.7" textLength="8.6" lengthAdjust="spacingAndGlyphs">8</tspan><tspan x="604.3" textLength="12.0" lengthAdjust="spacingAndGlyphs">%</tspan></text>
<text x="580.0" y="363.7" font-size="11.9" fill="#1e1e1e" stroke="#1e1e1e" stroke-width="0.42" stroke-linejoin="round" textLength="36.7" lengthAdjust="spacingAndGlyphs">Resto</text>
</g>
</g>
<g class="footer">
<text y="805.3" font-size="18.6" font-weight="bold" fill="#7b7b7d" stroke="#7b7b7d" stroke-width="0.35" stroke-linejoin="round"><tspan x="524.9" textLength="51.3" lengthAdjust="spacingAndGlyphs">FUENTE:</tspan> <tspan x="578.8" textLength="68.8" lengthAdjust="spacingAndGlyphs">FUNDACIÓN</tspan> <tspan x="652.3" textLength="31.6" lengthAdjust="spacingAndGlyphs">FADA</tspan> <tspan x="687.3" textLength="39.7" lengthAdjust="spacingAndGlyphs">(Datos</tspan> <tspan x="730.8" textLength="19.2" lengthAdjust="spacingAndGlyphs">del</tspan> <tspan x="752.8" textLength="39.6" lengthAdjust="spacingAndGlyphs">primer</tspan> <tspan x="796.0" textLength="57.0" lengthAdjust="spacingAndGlyphs">semestre</tspan> <tspan x="856.8" textLength="17.4" lengthAdjust="spacingAndGlyphs">del</tspan> <tspan x="876.6" textLength="29.2" lengthAdjust="spacingAndGlyphs">año)</tspan></text>
<path d="M338 798.6 H520" fill="none" stroke="#cfcfcf" stroke-width="1.1" stroke-dasharray="1.6 10.5"/>
<path d="M914 798.6 H1112" fill="none" stroke="#cfcfcf" stroke-width="1.1" stroke-dasharray="1.6 12.5"/>
<rect x="96.0" y="816.6" width="1238.7" height="2.7" fill="#828284"/>
</g>
</svg>
</body>
</html>
